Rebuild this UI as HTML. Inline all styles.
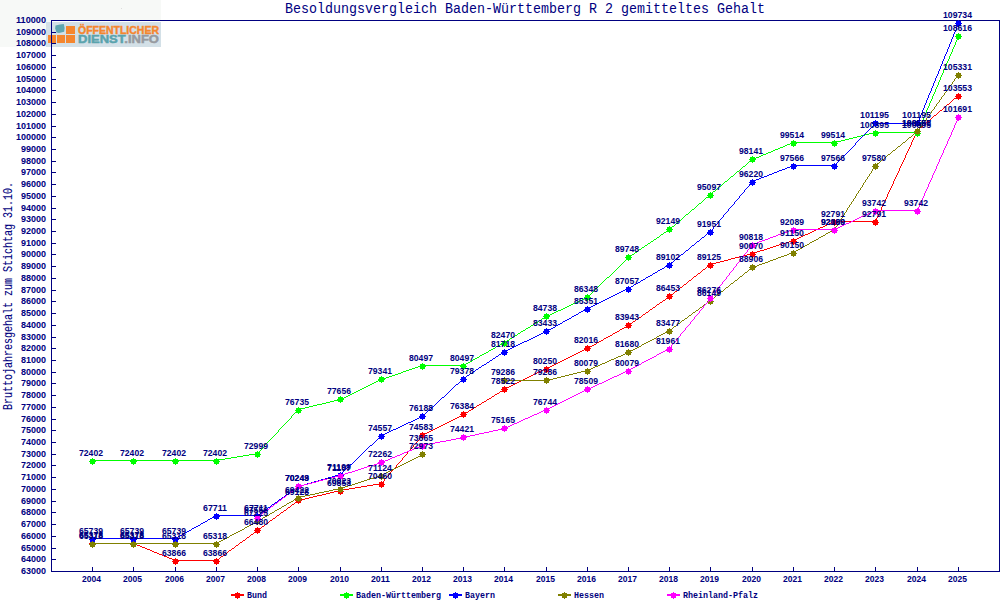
<!DOCTYPE html>
<html><head><meta charset="utf-8"><title>Besoldungsvergleich</title>
<style>html,body{margin:0;padding:0;background:#fff;overflow:hidden}svg{display:block}text{font-family:"Liberation Mono","DejaVu Sans Mono",monospace}.sans text{font-family:"Liberation Sans","DejaVu Sans",sans-serif}</style></head><body>
<svg width="1000" height="600" viewBox="0 0 1000 600">
<rect x="0" y="0" width="1000" height="600" fill="#ffffff"/>
<rect x="0" y="0" width="161" height="47" fill="#f7f9f7"/>
<rect x="52" y="21" width="947" height="550" fill="#ffffff"/>
<rect x="121" y="8" width="1" height="1" fill="#dcdcdc"/>
<g id="logo">
<rect x="46" y="22" width="115" height="25" fill="#d3e0e7"/>
<rect x="48" y="35" width="8" height="8" fill="#f5862e"/>
<rect x="57" y="35" width="8" height="8" fill="#f5862e"/>
<rect x="66" y="35" width="9" height="8" fill="#f5862e"/>
<rect x="66" y="26" width="9" height="8" fill="#f5862e"/>
<path d="M55.5 25.5 L60 24.6 L63.8 24 L64.6 28 L64.2 31.8 L59 33 L56.5 32.4 L55.2 28.5 Z" fill="#5ea6b0"/>
<text x="78" y="34" font-family="'Liberation Sans',sans-serif" font-weight="bold" font-size="11" fill="#f5862e" stroke="#f5862e" stroke-width="0.45" textLength="81" lengthAdjust="spacingAndGlyphs" style="font-family:'Liberation Sans',sans-serif">ÖFFENTLICHER</text>
<text x="78" y="43" font-family="'Liberation Sans',sans-serif" font-weight="bold" font-size="11" fill="#5aa3ad" stroke="#5aa3ad" stroke-width="0.45" style="font-family:'Liberation Sans',sans-serif" textLength="81" lengthAdjust="spacingAndGlyphs">DIENST<tspan fill="#979aa0" stroke="#979aa0">.INFO</tspan></text>
</g>
<rect x="51.5" y="20.5" width="948" height="551" fill="none" stroke="#000080" stroke-width="1" shape-rendering="crispEdges"/>
<path d="M51 559.5H56M51 548.5H56M51 536.5H56M51 524.5H56M51 512.5H56M51 501.5H56M51 489.5H56M51 477.5H56M51 465.5H56M51 454.5H56M51 442.5H56M51 430.5H56M51 419.5H56M51 407.5H56M51 395.5H56M51 383.5H56M51 372.5H56M51 360.5H56M51 348.5H56M51 337.5H56M51 325.5H56M51 313.5H56M51 301.5H56M51 290.5H56M51 278.5H56M51 266.5H56M51 254.5H56M51 243.5H56M51 231.5H56M51 219.5H56M51 208.5H56M51 196.5H56M51 184.5H56M51 172.5H56M51 161.5H56M51 149.5H56M51 137.5H56M51 126.5H56M51 114.5H56M51 102.5H56M51 90.5H56M51 79.5H56M51 67.5H56M51 55.5H56M51 43.5H56M51 32.5H56M92.5 567V571M133.5 567V571M175.5 567V571M216.5 567V571M257.5 567V571M298.5 567V571M340.5 567V571M381.5 567V571M422.5 567V571M463.5 567V571M504.5 567V571M546.5 567V571M587.5 567V571M628.5 567V571M669.5 567V571M710.5 567V571M752.5 567V571M793.5 567V571M834.5 567V571M875.5 567V571M917.5 567V571M958.5 567V571" stroke="#000080" stroke-width="1" fill="none" shape-rendering="crispEdges"/>
<g font-size="9.5" fill="#000080" font-weight="bold" class="sans">
<text x="46" y="574" text-anchor="end" textLength="25" lengthAdjust="spacingAndGlyphs">63000</text><text x="46" y="562" text-anchor="end" textLength="25" lengthAdjust="spacingAndGlyphs">64000</text><text x="46" y="551" text-anchor="end" textLength="25" lengthAdjust="spacingAndGlyphs">65000</text><text x="46" y="539" text-anchor="end" textLength="25" lengthAdjust="spacingAndGlyphs">66000</text><text x="46" y="527" text-anchor="end" textLength="25" lengthAdjust="spacingAndGlyphs">67000</text><text x="46" y="515" text-anchor="end" textLength="25" lengthAdjust="spacingAndGlyphs">68000</text><text x="46" y="504" text-anchor="end" textLength="25" lengthAdjust="spacingAndGlyphs">69000</text><text x="46" y="492" text-anchor="end" textLength="25" lengthAdjust="spacingAndGlyphs">70000</text><text x="46" y="480" text-anchor="end" textLength="25" lengthAdjust="spacingAndGlyphs">71000</text><text x="46" y="468" text-anchor="end" textLength="25" lengthAdjust="spacingAndGlyphs">72000</text><text x="46" y="457" text-anchor="end" textLength="25" lengthAdjust="spacingAndGlyphs">73000</text><text x="46" y="445" text-anchor="end" textLength="25" lengthAdjust="spacingAndGlyphs">74000</text><text x="46" y="433" text-anchor="end" textLength="25" lengthAdjust="spacingAndGlyphs">75000</text><text x="46" y="422" text-anchor="end" textLength="25" lengthAdjust="spacingAndGlyphs">76000</text><text x="46" y="410" text-anchor="end" textLength="25" lengthAdjust="spacingAndGlyphs">77000</text><text x="46" y="398" text-anchor="end" textLength="25" lengthAdjust="spacingAndGlyphs">78000</text><text x="46" y="386" text-anchor="end" textLength="25" lengthAdjust="spacingAndGlyphs">79000</text><text x="46" y="375" text-anchor="end" textLength="25" lengthAdjust="spacingAndGlyphs">80000</text><text x="46" y="363" text-anchor="end" textLength="25" lengthAdjust="spacingAndGlyphs">81000</text><text x="46" y="351" text-anchor="end" textLength="25" lengthAdjust="spacingAndGlyphs">82000</text><text x="46" y="340" text-anchor="end" textLength="25" lengthAdjust="spacingAndGlyphs">83000</text><text x="46" y="328" text-anchor="end" textLength="25" lengthAdjust="spacingAndGlyphs">84000</text><text x="46" y="316" text-anchor="end" textLength="25" lengthAdjust="spacingAndGlyphs">85000</text><text x="46" y="304" text-anchor="end" textLength="25" lengthAdjust="spacingAndGlyphs">86000</text><text x="46" y="293" text-anchor="end" textLength="25" lengthAdjust="spacingAndGlyphs">87000</text><text x="46" y="281" text-anchor="end" textLength="25" lengthAdjust="spacingAndGlyphs">88000</text><text x="46" y="269" text-anchor="end" textLength="25" lengthAdjust="spacingAndGlyphs">89000</text><text x="46" y="257" text-anchor="end" textLength="25" lengthAdjust="spacingAndGlyphs">90000</text><text x="46" y="246" text-anchor="end" textLength="25" lengthAdjust="spacingAndGlyphs">91000</text><text x="46" y="234" text-anchor="end" textLength="25" lengthAdjust="spacingAndGlyphs">92000</text><text x="46" y="222" text-anchor="end" textLength="25" lengthAdjust="spacingAndGlyphs">93000</text><text x="46" y="211" text-anchor="end" textLength="25" lengthAdjust="spacingAndGlyphs">94000</text><text x="46" y="199" text-anchor="end" textLength="25" lengthAdjust="spacingAndGlyphs">95000</text><text x="46" y="187" text-anchor="end" textLength="25" lengthAdjust="spacingAndGlyphs">96000</text><text x="46" y="175" text-anchor="end" textLength="25" lengthAdjust="spacingAndGlyphs">97000</text><text x="46" y="164" text-anchor="end" textLength="25" lengthAdjust="spacingAndGlyphs">98000</text><text x="46" y="152" text-anchor="end" textLength="25" lengthAdjust="spacingAndGlyphs">99000</text><text x="46" y="140" text-anchor="end" textLength="30" lengthAdjust="spacingAndGlyphs">100000</text><text x="46" y="129" text-anchor="end" textLength="30" lengthAdjust="spacingAndGlyphs">101000</text><text x="46" y="117" text-anchor="end" textLength="30" lengthAdjust="spacingAndGlyphs">102000</text><text x="46" y="105" text-anchor="end" textLength="30" lengthAdjust="spacingAndGlyphs">103000</text><text x="46" y="93" text-anchor="end" textLength="30" lengthAdjust="spacingAndGlyphs">104000</text><text x="46" y="82" text-anchor="end" textLength="30" lengthAdjust="spacingAndGlyphs">105000</text><text x="46" y="70" text-anchor="end" textLength="30" lengthAdjust="spacingAndGlyphs">106000</text><text x="46" y="58" text-anchor="end" textLength="30" lengthAdjust="spacingAndGlyphs">107000</text><text x="46" y="46" text-anchor="end" textLength="30" lengthAdjust="spacingAndGlyphs">108000</text><text x="46" y="35" text-anchor="end" textLength="30" lengthAdjust="spacingAndGlyphs">109000</text><text x="46" y="23" text-anchor="end" textLength="30" lengthAdjust="spacingAndGlyphs">110000</text>
<text x="82" y="582" textLength="19" lengthAdjust="spacingAndGlyphs">2004</text>
<text x="123" y="582" textLength="19" lengthAdjust="spacingAndGlyphs">2005</text>
<text x="165" y="582" textLength="19" lengthAdjust="spacingAndGlyphs">2006</text>
<text x="206" y="582" textLength="19" lengthAdjust="spacingAndGlyphs">2007</text>
<text x="247" y="582" textLength="19" lengthAdjust="spacingAndGlyphs">2008</text>
<text x="288" y="582" textLength="19" lengthAdjust="spacingAndGlyphs">2009</text>
<text x="330" y="582" textLength="19" lengthAdjust="spacingAndGlyphs">2010</text>
<text x="371" y="582" textLength="19" lengthAdjust="spacingAndGlyphs">2011</text>
<text x="412" y="582" textLength="19" lengthAdjust="spacingAndGlyphs">2012</text>
<text x="453" y="582" textLength="19" lengthAdjust="spacingAndGlyphs">2013</text>
<text x="494" y="582" textLength="19" lengthAdjust="spacingAndGlyphs">2014</text>
<text x="536" y="582" textLength="19" lengthAdjust="spacingAndGlyphs">2015</text>
<text x="577" y="582" textLength="19" lengthAdjust="spacingAndGlyphs">2016</text>
<text x="618" y="582" textLength="19" lengthAdjust="spacingAndGlyphs">2017</text>
<text x="659" y="582" textLength="19" lengthAdjust="spacingAndGlyphs">2018</text>
<text x="700" y="582" textLength="19" lengthAdjust="spacingAndGlyphs">2019</text>
<text x="742" y="582" textLength="19" lengthAdjust="spacingAndGlyphs">2020</text>
<text x="783" y="582" textLength="19" lengthAdjust="spacingAndGlyphs">2021</text>
<text x="824" y="582" textLength="19" lengthAdjust="spacingAndGlyphs">2022</text>
<text x="865" y="582" textLength="19" lengthAdjust="spacingAndGlyphs">2023</text>
<text x="907" y="582" textLength="19" lengthAdjust="spacingAndGlyphs">2024</text>
<text x="948" y="582" textLength="19" lengthAdjust="spacingAndGlyphs">2025</text>
</g>
<path d="M958 95h1v1h-1zM957 96h1v1h-1zM956 97h1v1h-1zM954 98h2v1h-2zM953 99h1v1h-1zM952 100h1v1h-1zM951 101h1v1h-1zM950 102h1v1h-1zM949 103h1v1h-1zM947 104h2v1h-2zM946 105h1v1h-1zM945 106h1v1h-1zM944 107h1v1h-1zM943 108h1v1h-1zM942 109h1v1h-1zM940 110h2v1h-2zM939 111h1v1h-1zM938 112h1v1h-1zM937 113h1v1h-1zM936 114h1v1h-1zM934 115h2v1h-2zM933 116h1v1h-1zM932 117h1v1h-1zM931 118h1v1h-1zM930 119h1v1h-1zM929 120h1v1h-1zM927 121h2v1h-2zM926 122h1v1h-1zM925 123h1v1h-1zM924 124h1v1h-1zM923 125h1v1h-1zM922 126h1v1h-1zM920 127h2v1h-2zM919 128h1v1h-1zM918 129h1v1h-1zM917 130h1v1h-1zM917 131h1v1h-1zM916 132h1v1h-1zM916 133h1v1h-1zM915 134h1v1h-1zM915 135h1v1h-1zM914 136h1v1h-1zM914 137h1v1h-1zM913 138h1v1h-1zM913 139h1v1h-1zM912 140h1v1h-1zM912 141h1v1h-1zM911 142h1v1h-1zM911 143h1v1h-1zM911 144h1v1h-1zM910 145h1v1h-1zM910 146h1v1h-1zM909 147h1v1h-1zM909 148h1v1h-1zM908 149h1v1h-1zM908 150h1v1h-1zM907 151h1v1h-1zM907 152h1v1h-1zM906 153h1v1h-1zM906 154h1v1h-1zM905 155h1v1h-1zM905 156h1v1h-1zM905 157h1v1h-1zM904 158h1v1h-1zM904 159h1v1h-1zM903 160h1v1h-1zM903 161h1v1h-1zM902 162h1v1h-1zM902 163h1v1h-1zM901 164h1v1h-1zM901 165h1v1h-1zM900 166h1v1h-1zM900 167h1v1h-1zM899 168h1v1h-1zM899 169h1v1h-1zM899 170h1v1h-1zM898 171h1v1h-1zM898 172h1v1h-1zM897 173h1v1h-1zM897 174h1v1h-1zM896 175h1v1h-1zM896 176h1v1h-1zM895 177h1v1h-1zM895 178h1v1h-1zM894 179h1v1h-1zM894 180h1v1h-1zM893 181h1v1h-1zM893 182h1v1h-1zM893 183h1v1h-1zM892 184h1v1h-1zM892 185h1v1h-1zM891 186h1v1h-1zM891 187h1v1h-1zM890 188h1v1h-1zM890 189h1v1h-1zM889 190h1v1h-1zM889 191h1v1h-1zM888 192h1v1h-1zM888 193h1v1h-1zM887 194h1v1h-1zM887 195h1v1h-1zM887 196h1v1h-1zM886 197h1v1h-1zM886 198h1v1h-1zM885 199h1v1h-1zM885 200h1v1h-1zM884 201h1v1h-1zM884 202h1v1h-1zM883 203h1v1h-1zM883 204h1v1h-1zM882 205h1v1h-1zM882 206h1v1h-1zM881 207h1v1h-1zM881 208h1v1h-1zM881 209h1v1h-1zM880 210h1v1h-1zM880 211h1v1h-1zM879 212h1v1h-1zM879 213h1v1h-1zM878 214h1v1h-1zM878 215h1v1h-1zM877 216h1v1h-1zM877 217h1v1h-1zM876 218h1v1h-1zM876 219h1v1h-1zM875 220h1v1h-1zM833 221h43v1h-43zM831 222h2v1h-2zM829 223h2v1h-2zM827 224h2v1h-2zM825 225h2v1h-2zM823 226h2v1h-2zM820 227h3v1h-3zM818 228h2v1h-2zM816 229h2v1h-2zM814 230h2v1h-2zM812 231h2v1h-2zM810 232h2v1h-2zM808 233h2v1h-2zM805 234h3v1h-3zM803 235h2v1h-2zM801 236h2v1h-2zM799 237h2v1h-2zM797 238h2v1h-2zM795 239h2v1h-2zM792 240h3v1h-3zM789 241h3v1h-3zM786 242h3v1h-3zM782 243h4v1h-4zM779 244h3v1h-3zM776 245h3v1h-3zM773 246h3v1h-3zM770 247h3v1h-3zM767 248h3v1h-3zM764 249h3v1h-3zM760 250h4v1h-4zM757 251h3v1h-3zM754 252h3v1h-3zM751 253h3v1h-3zM747 254h4v1h-4zM743 255h4v1h-4zM739 256h4v1h-4zM735 257h4v1h-4zM731 258h4v1h-4zM728 259h3v1h-3zM724 260h4v1h-4zM720 261h4v1h-4zM716 262h4v1h-4zM712 263h4v1h-4zM710 264h2v1h-2zM709 265h1v1h-1zM707 266h2v1h-2zM706 267h1v1h-1zM705 268h1v1h-1zM703 269h2v1h-2zM702 270h1v1h-1zM701 271h1v1h-1zM700 272h1v1h-1zM698 273h2v1h-2zM697 274h1v1h-1zM696 275h1v1h-1zM694 276h2v1h-2zM693 277h1v1h-1zM692 278h1v1h-1zM691 279h1v1h-1zM689 280h2v1h-2zM688 281h1v1h-1zM687 282h1v1h-1zM686 283h1v1h-1zM684 284h2v1h-2zM683 285h1v1h-1zM682 286h1v1h-1zM680 287h2v1h-2zM679 288h1v1h-1zM678 289h1v1h-1zM677 290h1v1h-1zM675 291h2v1h-2zM674 292h1v1h-1zM673 293h1v1h-1zM671 294h2v1h-2zM670 295h1v1h-1zM669 296h1v1h-1zM667 297h2v1h-2zM666 298h1v1h-1zM665 299h1v1h-1zM663 300h2v1h-2zM662 301h1v1h-1zM660 302h2v1h-2zM659 303h1v1h-1zM657 304h2v1h-2zM656 305h1v1h-1zM655 306h1v1h-1zM653 307h2v1h-2zM652 308h1v1h-1zM650 309h2v1h-2zM649 310h1v1h-1zM648 311h1v1h-1zM646 312h2v1h-2zM645 313h1v1h-1zM643 314h2v1h-2zM642 315h1v1h-1zM641 316h1v1h-1zM639 317h2v1h-2zM638 318h1v1h-1zM636 319h2v1h-2zM635 320h1v1h-1zM633 321h2v1h-2zM632 322h1v1h-1zM631 323h1v1h-1zM629 324h2v1h-2zM628 325h1v1h-1zM626 326h2v1h-2zM624 327h2v1h-2zM622 328h2v1h-2zM620 329h2v1h-2zM619 330h1v1h-1zM617 331h2v1h-2zM615 332h2v1h-2zM613 333h2v1h-2zM612 334h1v1h-1zM610 335h2v1h-2zM608 336h2v1h-2zM606 337h2v1h-2zM604 338h2v1h-2zM603 339h1v1h-1zM601 340h2v1h-2zM599 341h2v1h-2zM597 342h2v1h-2zM596 343h1v1h-1zM594 344h2v1h-2zM592 345h2v1h-2zM590 346h2v1h-2zM588 347h2v1h-2zM586 348h2v1h-2zM584 349h2v1h-2zM582 350h2v1h-2zM580 351h2v1h-2zM578 352h2v1h-2zM576 353h2v1h-2zM574 354h2v1h-2zM572 355h2v1h-2zM570 356h2v1h-2zM568 357h2v1h-2zM566 358h2v1h-2zM564 359h2v1h-2zM562 360h2v1h-2zM560 361h2v1h-2zM558 362h2v1h-2zM556 363h2v1h-2zM554 364h2v1h-2zM552 365h2v1h-2zM550 366h2v1h-2zM548 367h2v1h-2zM545 368h3v1h-3zM543 369h2v1h-2zM541 370h2v1h-2zM539 371h2v1h-2zM537 372h2v1h-2zM535 373h2v1h-2zM533 374h2v1h-2zM531 375h2v1h-2zM529 376h2v1h-2zM527 377h2v1h-2zM525 378h2v1h-2zM523 379h2v1h-2zM521 380h2v1h-2zM519 381h2v1h-2zM517 382h2v1h-2zM515 383h2v1h-2zM513 384h2v1h-2zM511 385h2v1h-2zM509 386h2v1h-2zM507 387h2v1h-2zM505 388h2v1h-2zM504 389h1v1h-1zM502 390h2v1h-2zM500 391h2v1h-2zM499 392h1v1h-1zM497 393h2v1h-2zM495 394h2v1h-2zM494 395h1v1h-1zM492 396h2v1h-2zM491 397h1v1h-1zM489 398h2v1h-2zM487 399h2v1h-2zM486 400h1v1h-1zM484 401h2v1h-2zM482 402h2v1h-2zM481 403h1v1h-1zM479 404h2v1h-2zM477 405h2v1h-2zM476 406h1v1h-1zM474 407h2v1h-2zM473 408h1v1h-1zM471 409h2v1h-2zM469 410h2v1h-2zM468 411h1v1h-1zM466 412h2v1h-2zM464 413h2v1h-2zM463 414h1v1h-1zM461 415h2v1h-2zM459 416h2v1h-2zM457 417h2v1h-2zM455 418h2v1h-2zM453 419h2v1h-2zM451 420h2v1h-2zM449 421h2v1h-2zM447 422h2v1h-2zM445 423h2v1h-2zM443 424h2v1h-2zM441 425h2v1h-2zM439 426h2v1h-2zM437 427h2v1h-2zM435 428h2v1h-2zM433 429h2v1h-2zM431 430h2v1h-2zM429 431h2v1h-2zM427 432h2v1h-2zM425 433h2v1h-2zM423 434h2v1h-2zM422 435h1v1h-1zM421 436h1v1h-1zM420 437h1v1h-1zM419 438h1v1h-1zM419 439h1v1h-1zM418 440h1v1h-1zM417 441h1v1h-1zM416 442h1v1h-1zM415 443h1v1h-1zM414 444h1v1h-1zM413 445h1v1h-1zM413 446h1v1h-1zM412 447h1v1h-1zM411 448h1v1h-1zM410 449h1v1h-1zM409 450h1v1h-1zM408 451h1v1h-1zM407 452h1v1h-1zM407 453h1v1h-1zM406 454h1v1h-1zM405 455h1v1h-1zM404 456h1v1h-1zM403 457h1v1h-1zM402 458h1v1h-1zM402 459h1v1h-1zM401 460h1v1h-1zM400 461h1v1h-1zM399 462h1v1h-1zM398 463h1v1h-1zM397 464h1v1h-1zM396 465h1v1h-1zM396 466h1v1h-1zM395 467h1v1h-1zM394 468h1v1h-1zM393 469h1v1h-1zM392 470h1v1h-1zM391 471h1v1h-1zM390 472h1v1h-1zM390 473h1v1h-1zM389 474h1v1h-1zM388 475h1v1h-1zM387 476h1v1h-1zM386 477h1v1h-1zM385 478h1v1h-1zM384 479h1v1h-1zM384 480h1v1h-1zM383 481h1v1h-1zM382 482h1v1h-1zM379 483h3v1h-3zM373 484h6v1h-6zM367 485h6v1h-6zM361 486h6v1h-6zM355 487h6v1h-6zM349 488h6v1h-6zM343 489h6v1h-6zM338 490h5v1h-5zM334 491h4v1h-4zM330 492h4v1h-4zM326 493h4v1h-4zM322 494h4v1h-4zM317 495h5v1h-5zM313 496h4v1h-4zM309 497h4v1h-4zM305 498h4v1h-4zM301 499h4v1h-4zM298 500h3v1h-3zM296 501h2v1h-2zM295 502h1v1h-1zM294 503h1v1h-1zM292 504h2v1h-2zM291 505h1v1h-1zM290 506h1v1h-1zM288 507h2v1h-2zM287 508h1v1h-1zM286 509h1v1h-1zM284 510h2v1h-2zM283 511h1v1h-1zM281 512h2v1h-2zM280 513h1v1h-1zM279 514h1v1h-1zM277 515h2v1h-2zM276 516h1v1h-1zM275 517h1v1h-1zM273 518h2v1h-2zM272 519h1v1h-1zM270 520h2v1h-2zM269 521h1v1h-1zM268 522h1v1h-1zM266 523h2v1h-2zM265 524h1v1h-1zM264 525h1v1h-1zM262 526h2v1h-2zM261 527h1v1h-1zM260 528h1v1h-1zM258 529h2v1h-2zM257 530h1v1h-1zM255 531h2v1h-2zM254 532h1v1h-1zM253 533h1v1h-1zM251 534h2v1h-2zM250 535h1v1h-1zM249 536h1v1h-1zM247 537h2v1h-2zM246 538h1v1h-1zM245 539h1v1h-1zM243 540h2v1h-2zM242 541h1v1h-1zM240 542h2v1h-2zM92 543h43v1h-43zM239 543h1v1h-1zM135 544h2v1h-2zM238 544h1v1h-1zM137 545h3v1h-3zM236 545h2v1h-2zM140 546h2v1h-2zM235 546h1v1h-1zM142 547h3v1h-3zM234 547h1v1h-1zM145 548h2v1h-2zM232 548h2v1h-2zM147 549h3v1h-3zM231 549h1v1h-1zM150 550h2v1h-2zM229 550h2v1h-2zM152 551h2v1h-2zM228 551h1v1h-1zM154 552h3v1h-3zM227 552h1v1h-1zM157 553h2v1h-2zM225 553h2v1h-2zM159 554h3v1h-3zM224 554h1v1h-1zM162 555h2v1h-2zM223 555h1v1h-1zM164 556h3v1h-3zM221 556h2v1h-2zM167 557h2v1h-2zM220 557h1v1h-1zM169 558h3v1h-3zM219 558h1v1h-1zM172 559h2v1h-2zM217 559h2v1h-2zM174 560h43v1h-43z" fill="#ff0000" shape-rendering="crispEdges"/>
<path d="M90 541h5v5h-5z M92 540h1v1h-1z M92 546h1v1h-1z M89 543h1v1h-1z M95 543h1v1h-1z" fill="#ff0000" shape-rendering="crispEdges"/>
<path d="M131 541h5v5h-5z M133 540h1v1h-1z M133 546h1v1h-1z M130 543h1v1h-1z M136 543h1v1h-1z" fill="#ff0000" shape-rendering="crispEdges"/>
<path d="M173 559h5v5h-5z M175 558h1v1h-1z M175 564h1v1h-1z M172 561h1v1h-1z M178 561h1v1h-1z" fill="#ff0000" shape-rendering="crispEdges"/>
<path d="M214 559h5v5h-5z M216 558h1v1h-1z M216 564h1v1h-1z M213 561h1v1h-1z M219 561h1v1h-1z" fill="#ff0000" shape-rendering="crispEdges"/>
<path d="M255 528h5v5h-5z M257 527h1v1h-1z M257 533h1v1h-1z M254 530h1v1h-1z M260 530h1v1h-1z" fill="#ff0000" shape-rendering="crispEdges"/>
<path d="M296 498h5v5h-5z M298 497h1v1h-1z M298 503h1v1h-1z M295 500h1v1h-1z M301 500h1v1h-1z" fill="#ff0000" shape-rendering="crispEdges"/>
<path d="M338 489h5v5h-5z M340 488h1v1h-1z M340 494h1v1h-1z M337 491h1v1h-1z M343 491h1v1h-1z" fill="#ff0000" shape-rendering="crispEdges"/>
<path d="M379 482h5v5h-5z M381 481h1v1h-1z M381 487h1v1h-1z M378 484h1v1h-1z M384 484h1v1h-1z" fill="#ff0000" shape-rendering="crispEdges"/>
<path d="M420 433h5v5h-5z M422 432h1v1h-1z M422 438h1v1h-1z M419 435h1v1h-1z M425 435h1v1h-1z" fill="#ff0000" shape-rendering="crispEdges"/>
<path d="M461 412h5v5h-5z M463 411h1v1h-1z M463 417h1v1h-1z M460 414h1v1h-1z M466 414h1v1h-1z" fill="#ff0000" shape-rendering="crispEdges"/>
<path d="M502 387h5v5h-5z M504 386h1v1h-1z M504 392h1v1h-1z M501 389h1v1h-1z M507 389h1v1h-1z" fill="#ff0000" shape-rendering="crispEdges"/>
<path d="M544 367h5v5h-5z M546 366h1v1h-1z M546 372h1v1h-1z M543 369h1v1h-1z M549 369h1v1h-1z" fill="#ff0000" shape-rendering="crispEdges"/>
<path d="M585 346h5v5h-5z M587 345h1v1h-1z M587 351h1v1h-1z M584 348h1v1h-1z M590 348h1v1h-1z" fill="#ff0000" shape-rendering="crispEdges"/>
<path d="M626 323h5v5h-5z M628 322h1v1h-1z M628 328h1v1h-1z M625 325h1v1h-1z M631 325h1v1h-1z" fill="#ff0000" shape-rendering="crispEdges"/>
<path d="M667 294h5v5h-5z M669 293h1v1h-1z M669 299h1v1h-1z M666 296h1v1h-1z M672 296h1v1h-1z" fill="#ff0000" shape-rendering="crispEdges"/>
<path d="M708 263h5v5h-5z M710 262h1v1h-1z M710 268h1v1h-1z M707 265h1v1h-1z M713 265h1v1h-1z" fill="#ff0000" shape-rendering="crispEdges"/>
<path d="M750 252h5v5h-5z M752 251h1v1h-1z M752 257h1v1h-1z M749 254h1v1h-1z M755 254h1v1h-1z" fill="#ff0000" shape-rendering="crispEdges"/>
<path d="M791 239h5v5h-5z M793 238h1v1h-1z M793 244h1v1h-1z M790 241h1v1h-1z M796 241h1v1h-1z" fill="#ff0000" shape-rendering="crispEdges"/>
<path d="M832 220h5v5h-5z M834 219h1v1h-1z M834 225h1v1h-1z M831 222h1v1h-1z M837 222h1v1h-1z" fill="#ff0000" shape-rendering="crispEdges"/>
<path d="M873 220h5v5h-5z M875 219h1v1h-1z M875 225h1v1h-1z M872 222h1v1h-1z M878 222h1v1h-1z" fill="#ff0000" shape-rendering="crispEdges"/>
<path d="M915 129h5v5h-5z M917 128h1v1h-1z M917 134h1v1h-1z M914 131h1v1h-1z M920 131h1v1h-1z" fill="#ff0000" shape-rendering="crispEdges"/>
<path d="M956 94h5v5h-5z M958 93h1v1h-1z M958 99h1v1h-1z M955 96h1v1h-1z M961 96h1v1h-1z" fill="#ff0000" shape-rendering="crispEdges"/>
<path d="M958 36h1v1h-1zM958 37h1v1h-1zM957 38h1v1h-1zM957 39h1v1h-1zM956 40h1v1h-1zM956 41h1v1h-1zM955 42h1v1h-1zM955 43h1v1h-1zM955 44h1v1h-1zM954 45h1v1h-1zM954 46h1v1h-1zM953 47h1v1h-1zM953 48h1v1h-1zM952 49h1v1h-1zM952 50h1v1h-1zM952 51h1v1h-1zM951 52h1v1h-1zM951 53h1v1h-1zM950 54h1v1h-1zM950 55h1v1h-1zM949 56h1v1h-1zM949 57h1v1h-1zM949 58h1v1h-1zM948 59h1v1h-1zM948 60h1v1h-1zM947 61h1v1h-1zM947 62h1v1h-1zM946 63h1v1h-1zM946 64h1v1h-1zM946 65h1v1h-1zM945 66h1v1h-1zM945 67h1v1h-1zM944 68h1v1h-1zM944 69h1v1h-1zM943 70h1v1h-1zM943 71h1v1h-1zM943 72h1v1h-1zM942 73h1v1h-1zM942 74h1v1h-1zM941 75h1v1h-1zM941 76h1v1h-1zM940 77h1v1h-1zM940 78h1v1h-1zM940 79h1v1h-1zM939 80h1v1h-1zM939 81h1v1h-1zM938 82h1v1h-1zM938 83h1v1h-1zM938 84h1v1h-1zM937 85h1v1h-1zM937 86h1v1h-1zM936 87h1v1h-1zM936 88h1v1h-1zM935 89h1v1h-1zM935 90h1v1h-1zM935 91h1v1h-1zM934 92h1v1h-1zM934 93h1v1h-1zM933 94h1v1h-1zM933 95h1v1h-1zM932 96h1v1h-1zM932 97h1v1h-1zM932 98h1v1h-1zM931 99h1v1h-1zM931 100h1v1h-1zM930 101h1v1h-1zM930 102h1v1h-1zM929 103h1v1h-1zM929 104h1v1h-1zM929 105h1v1h-1zM928 106h1v1h-1zM928 107h1v1h-1zM927 108h1v1h-1zM927 109h1v1h-1zM926 110h1v1h-1zM926 111h1v1h-1zM926 112h1v1h-1zM925 113h1v1h-1zM925 114h1v1h-1zM924 115h1v1h-1zM924 116h1v1h-1zM923 117h1v1h-1zM923 118h1v1h-1zM923 119h1v1h-1zM922 120h1v1h-1zM922 121h1v1h-1zM921 122h1v1h-1zM921 123h1v1h-1zM920 124h1v1h-1zM920 125h1v1h-1zM920 126h1v1h-1zM919 127h1v1h-1zM919 128h1v1h-1zM918 129h1v1h-1zM918 130h1v1h-1zM917 131h1v1h-1zM873 132h45v1h-45zM869 133h4v1h-4zM865 134h4v1h-4zM861 135h4v1h-4zM857 136h4v1h-4zM853 137h4v1h-4zM849 138h4v1h-4zM845 139h4v1h-4zM841 140h4v1h-4zM837 141h4v1h-4zM792 142h45v1h-45zM790 143h2v1h-2zM787 144h3v1h-3zM785 145h2v1h-2zM783 146h2v1h-2zM780 147h3v1h-3zM778 148h2v1h-2zM775 149h3v1h-3zM773 150h2v1h-2zM771 151h2v1h-2zM768 152h3v1h-3zM766 153h2v1h-2zM763 154h3v1h-3zM761 155h2v1h-2zM759 156h2v1h-2zM756 157h3v1h-3zM754 158h2v1h-2zM752 159h2v1h-2zM751 160h1v1h-1zM749 161h2v1h-2zM748 162h1v1h-1zM747 163h1v1h-1zM746 164h1v1h-1zM745 165h1v1h-1zM743 166h2v1h-2zM742 167h1v1h-1zM741 168h1v1h-1zM740 169h1v1h-1zM739 170h1v1h-1zM737 171h2v1h-2zM736 172h1v1h-1zM735 173h1v1h-1zM734 174h1v1h-1zM733 175h1v1h-1zM731 176h2v1h-2zM730 177h1v1h-1zM729 178h1v1h-1zM728 179h1v1h-1zM727 180h1v1h-1zM725 181h2v1h-2zM724 182h1v1h-1zM723 183h1v1h-1zM722 184h1v1h-1zM721 185h1v1h-1zM719 186h2v1h-2zM718 187h1v1h-1zM717 188h1v1h-1zM716 189h1v1h-1zM715 190h1v1h-1zM713 191h2v1h-2zM712 192h1v1h-1zM711 193h1v1h-1zM710 194h1v1h-1zM709 195h1v1h-1zM708 196h1v1h-1zM706 197h2v1h-2zM705 198h1v1h-1zM704 199h1v1h-1zM703 200h1v1h-1zM702 201h1v1h-1zM701 202h1v1h-1zM699 203h2v1h-2zM698 204h1v1h-1zM697 205h1v1h-1zM696 206h1v1h-1zM695 207h1v1h-1zM694 208h1v1h-1zM692 209h2v1h-2zM691 210h1v1h-1zM690 211h1v1h-1zM689 212h1v1h-1zM688 213h1v1h-1zM686 214h2v1h-2zM685 215h1v1h-1zM684 216h1v1h-1zM683 217h1v1h-1zM682 218h1v1h-1zM681 219h1v1h-1zM679 220h2v1h-2zM678 221h1v1h-1zM677 222h1v1h-1zM676 223h1v1h-1zM675 224h1v1h-1zM674 225h1v1h-1zM672 226h2v1h-2zM671 227h1v1h-1zM670 228h1v1h-1zM669 229h1v1h-1zM667 230h2v1h-2zM666 231h1v1h-1zM664 232h2v1h-2zM663 233h1v1h-1zM661 234h2v1h-2zM660 235h1v1h-1zM659 236h1v1h-1zM657 237h2v1h-2zM656 238h1v1h-1zM654 239h2v1h-2zM653 240h1v1h-1zM651 241h2v1h-2zM650 242h1v1h-1zM648 243h2v1h-2zM647 244h1v1h-1zM645 245h2v1h-2zM644 246h1v1h-1zM642 247h2v1h-2zM641 248h1v1h-1zM639 249h2v1h-2zM638 250h1v1h-1zM637 251h1v1h-1zM635 252h2v1h-2zM634 253h1v1h-1zM632 254h2v1h-2zM631 255h1v1h-1zM629 256h2v1h-2zM628 257h1v1h-1zM627 258h1v1h-1zM626 259h1v1h-1zM625 260h1v1h-1zM624 261h1v1h-1zM623 262h1v1h-1zM622 263h1v1h-1zM621 264h1v1h-1zM620 265h1v1h-1zM619 266h1v1h-1zM618 267h1v1h-1zM617 268h1v1h-1zM616 269h1v1h-1zM615 270h1v1h-1zM614 271h1v1h-1zM613 272h1v1h-1zM612 273h1v1h-1zM611 274h1v1h-1zM610 275h1v1h-1zM609 276h1v1h-1zM607 277h2v1h-2zM606 278h1v1h-1zM605 279h1v1h-1zM604 280h1v1h-1zM603 281h1v1h-1zM602 282h1v1h-1zM601 283h1v1h-1zM600 284h1v1h-1zM599 285h1v1h-1zM598 286h1v1h-1zM597 287h1v1h-1zM596 288h1v1h-1zM595 289h1v1h-1zM594 290h1v1h-1zM593 291h1v1h-1zM592 292h1v1h-1zM591 293h1v1h-1zM590 294h1v1h-1zM589 295h1v1h-1zM588 296h1v1h-1zM586 297h2v1h-2zM584 298h2v1h-2zM582 299h2v1h-2zM580 300h2v1h-2zM578 301h2v1h-2zM576 302h2v1h-2zM573 303h3v1h-3zM571 304h2v1h-2zM569 305h2v1h-2zM567 306h2v1h-2zM565 307h2v1h-2zM563 308h2v1h-2zM561 309h2v1h-2zM558 310h3v1h-3zM556 311h2v1h-2zM554 312h2v1h-2zM552 313h2v1h-2zM550 314h2v1h-2zM548 315h2v1h-2zM546 316h2v1h-2zM544 317h2v1h-2zM542 318h2v1h-2zM541 319h1v1h-1zM539 320h2v1h-2zM538 321h1v1h-1zM536 322h2v1h-2zM534 323h2v1h-2zM533 324h1v1h-1zM531 325h2v1h-2zM530 326h1v1h-1zM528 327h2v1h-2zM526 328h2v1h-2zM525 329h1v1h-1zM523 330h2v1h-2zM521 331h2v1h-2zM520 332h1v1h-1zM518 333h2v1h-2zM517 334h1v1h-1zM515 335h2v1h-2zM513 336h2v1h-2zM512 337h1v1h-1zM510 338h2v1h-2zM509 339h1v1h-1zM507 340h2v1h-2zM505 341h2v1h-2zM504 342h1v1h-1zM502 343h2v1h-2zM500 344h2v1h-2zM498 345h2v1h-2zM496 346h2v1h-2zM495 347h1v1h-1zM493 348h2v1h-2zM491 349h2v1h-2zM489 350h2v1h-2zM488 351h1v1h-1zM486 352h2v1h-2zM484 353h2v1h-2zM482 354h2v1h-2zM480 355h2v1h-2zM479 356h1v1h-1zM477 357h2v1h-2zM475 358h2v1h-2zM473 359h2v1h-2zM472 360h1v1h-1zM470 361h2v1h-2zM468 362h2v1h-2zM466 363h2v1h-2zM464 364h2v1h-2zM421 365h43v1h-43zM418 366h3v1h-3zM415 367h3v1h-3zM412 368h3v1h-3zM409 369h3v1h-3zM406 370h3v1h-3zM403 371h3v1h-3zM401 372h2v1h-2zM398 373h3v1h-3zM395 374h3v1h-3zM392 375h3v1h-3zM389 376h3v1h-3zM386 377h3v1h-3zM383 378h3v1h-3zM380 379h3v1h-3zM378 380h2v1h-2zM376 381h2v1h-2zM374 382h2v1h-2zM372 383h2v1h-2zM370 384h2v1h-2zM368 385h2v1h-2zM366 386h2v1h-2zM364 387h2v1h-2zM362 388h2v1h-2zM360 389h2v1h-2zM358 390h2v1h-2zM356 391h2v1h-2zM354 392h2v1h-2zM352 393h2v1h-2zM350 394h2v1h-2zM348 395h2v1h-2zM346 396h2v1h-2zM344 397h2v1h-2zM342 398h2v1h-2zM338 399h4v1h-4zM334 400h4v1h-4zM330 401h4v1h-4zM326 402h4v1h-4zM322 403h4v1h-4zM317 404h5v1h-5zM313 405h4v1h-4zM309 406h4v1h-4zM305 407h4v1h-4zM301 408h4v1h-4zM298 409h3v1h-3zM297 410h1v1h-1zM296 411h1v1h-1zM295 412h1v1h-1zM294 413h1v1h-1zM293 414h1v1h-1zM292 415h1v1h-1zM291 416h1v1h-1zM291 417h1v1h-1zM290 418h1v1h-1zM289 419h1v1h-1zM288 420h1v1h-1zM287 421h1v1h-1zM286 422h1v1h-1zM285 423h1v1h-1zM284 424h1v1h-1zM283 425h1v1h-1zM282 426h1v1h-1zM281 427h1v1h-1zM280 428h1v1h-1zM279 429h1v1h-1zM278 430h1v1h-1zM278 431h1v1h-1zM277 432h1v1h-1zM276 433h1v1h-1zM275 434h1v1h-1zM274 435h1v1h-1zM273 436h1v1h-1zM272 437h1v1h-1zM271 438h1v1h-1zM270 439h1v1h-1zM269 440h1v1h-1zM268 441h1v1h-1zM267 442h1v1h-1zM266 443h1v1h-1zM265 444h1v1h-1zM264 445h1v1h-1zM264 446h1v1h-1zM263 447h1v1h-1zM262 448h1v1h-1zM261 449h1v1h-1zM260 450h1v1h-1zM259 451h1v1h-1zM258 452h1v1h-1zM255 453h3v1h-3zM249 454h6v1h-6zM243 455h6v1h-6zM237 456h6v1h-6zM231 457h6v1h-6zM225 458h6v1h-6zM219 459h6v1h-6zM92 460h127v1h-127z" fill="#00ff00" shape-rendering="crispEdges"/>
<path d="M90 459h5v5h-5z M92 458h1v1h-1z M92 464h1v1h-1z M89 461h1v1h-1z M95 461h1v1h-1z" fill="#00ff00" shape-rendering="crispEdges"/>
<path d="M131 459h5v5h-5z M133 458h1v1h-1z M133 464h1v1h-1z M130 461h1v1h-1z M136 461h1v1h-1z" fill="#00ff00" shape-rendering="crispEdges"/>
<path d="M173 459h5v5h-5z M175 458h1v1h-1z M175 464h1v1h-1z M172 461h1v1h-1z M178 461h1v1h-1z" fill="#00ff00" shape-rendering="crispEdges"/>
<path d="M214 459h5v5h-5z M216 458h1v1h-1z M216 464h1v1h-1z M213 461h1v1h-1z M219 461h1v1h-1z" fill="#00ff00" shape-rendering="crispEdges"/>
<path d="M255 452h5v5h-5z M257 451h1v1h-1z M257 457h1v1h-1z M254 454h1v1h-1z M260 454h1v1h-1z" fill="#00ff00" shape-rendering="crispEdges"/>
<path d="M296 408h5v5h-5z M298 407h1v1h-1z M298 413h1v1h-1z M295 410h1v1h-1z M301 410h1v1h-1z" fill="#00ff00" shape-rendering="crispEdges"/>
<path d="M338 397h5v5h-5z M340 396h1v1h-1z M340 402h1v1h-1z M337 399h1v1h-1z M343 399h1v1h-1z" fill="#00ff00" shape-rendering="crispEdges"/>
<path d="M379 377h5v5h-5z M381 376h1v1h-1z M381 382h1v1h-1z M378 379h1v1h-1z M384 379h1v1h-1z" fill="#00ff00" shape-rendering="crispEdges"/>
<path d="M420 364h5v5h-5z M422 363h1v1h-1z M422 369h1v1h-1z M419 366h1v1h-1z M425 366h1v1h-1z" fill="#00ff00" shape-rendering="crispEdges"/>
<path d="M461 364h5v5h-5z M463 363h1v1h-1z M463 369h1v1h-1z M460 366h1v1h-1z M466 366h1v1h-1z" fill="#00ff00" shape-rendering="crispEdges"/>
<path d="M502 341h5v5h-5z M504 340h1v1h-1z M504 346h1v1h-1z M501 343h1v1h-1z M507 343h1v1h-1z" fill="#00ff00" shape-rendering="crispEdges"/>
<path d="M544 314h5v5h-5z M546 313h1v1h-1z M546 319h1v1h-1z M543 316h1v1h-1z M549 316h1v1h-1z" fill="#00ff00" shape-rendering="crispEdges"/>
<path d="M585 295h5v5h-5z M587 294h1v1h-1z M587 300h1v1h-1z M584 297h1v1h-1z M590 297h1v1h-1z" fill="#00ff00" shape-rendering="crispEdges"/>
<path d="M626 255h5v5h-5z M628 254h1v1h-1z M628 260h1v1h-1z M625 257h1v1h-1z M631 257h1v1h-1z" fill="#00ff00" shape-rendering="crispEdges"/>
<path d="M667 227h5v5h-5z M669 226h1v1h-1z M669 232h1v1h-1z M666 229h1v1h-1z M672 229h1v1h-1z" fill="#00ff00" shape-rendering="crispEdges"/>
<path d="M708 193h5v5h-5z M710 192h1v1h-1z M710 198h1v1h-1z M707 195h1v1h-1z M713 195h1v1h-1z" fill="#00ff00" shape-rendering="crispEdges"/>
<path d="M750 157h5v5h-5z M752 156h1v1h-1z M752 162h1v1h-1z M749 159h1v1h-1z M755 159h1v1h-1z" fill="#00ff00" shape-rendering="crispEdges"/>
<path d="M791 141h5v5h-5z M793 140h1v1h-1z M793 146h1v1h-1z M790 143h1v1h-1z M796 143h1v1h-1z" fill="#00ff00" shape-rendering="crispEdges"/>
<path d="M832 141h5v5h-5z M834 140h1v1h-1z M834 146h1v1h-1z M831 143h1v1h-1z M837 143h1v1h-1z" fill="#00ff00" shape-rendering="crispEdges"/>
<path d="M873 131h5v5h-5z M875 130h1v1h-1z M875 136h1v1h-1z M872 133h1v1h-1z M878 133h1v1h-1z" fill="#00ff00" shape-rendering="crispEdges"/>
<path d="M915 131h5v5h-5z M917 130h1v1h-1z M917 136h1v1h-1z M914 133h1v1h-1z M920 133h1v1h-1z" fill="#00ff00" shape-rendering="crispEdges"/>
<path d="M956 34h5v5h-5z M958 33h1v1h-1z M958 39h1v1h-1z M955 36h1v1h-1z M961 36h1v1h-1z" fill="#00ff00" shape-rendering="crispEdges"/>
<path d="M958 23h1v1h-1zM958 24h1v1h-1zM957 25h1v1h-1zM957 26h1v1h-1zM956 27h1v1h-1zM956 28h1v1h-1zM956 29h1v1h-1zM955 30h1v1h-1zM955 31h1v1h-1zM954 32h1v1h-1zM954 33h1v1h-1zM953 34h1v1h-1zM953 35h1v1h-1zM953 36h1v1h-1zM952 37h1v1h-1zM952 38h1v1h-1zM951 39h1v1h-1zM951 40h1v1h-1zM951 41h1v1h-1zM950 42h1v1h-1zM950 43h1v1h-1zM949 44h1v1h-1zM949 45h1v1h-1zM949 46h1v1h-1zM948 47h1v1h-1zM948 48h1v1h-1zM947 49h1v1h-1zM947 50h1v1h-1zM947 51h1v1h-1zM946 52h1v1h-1zM946 53h1v1h-1zM945 54h1v1h-1zM945 55h1v1h-1zM944 56h1v1h-1zM944 57h1v1h-1zM944 58h1v1h-1zM943 59h1v1h-1zM943 60h1v1h-1zM942 61h1v1h-1zM942 62h1v1h-1zM942 63h1v1h-1zM941 64h1v1h-1zM941 65h1v1h-1zM940 66h1v1h-1zM940 67h1v1h-1zM940 68h1v1h-1zM939 69h1v1h-1zM939 70h1v1h-1zM938 71h1v1h-1zM938 72h1v1h-1zM938 73h1v1h-1zM937 74h1v1h-1zM937 75h1v1h-1zM936 76h1v1h-1zM936 77h1v1h-1zM935 78h1v1h-1zM935 79h1v1h-1zM935 80h1v1h-1zM934 81h1v1h-1zM934 82h1v1h-1zM933 83h1v1h-1zM933 84h1v1h-1zM933 85h1v1h-1zM932 86h1v1h-1zM932 87h1v1h-1zM931 88h1v1h-1zM931 89h1v1h-1zM931 90h1v1h-1zM930 91h1v1h-1zM930 92h1v1h-1zM929 93h1v1h-1zM929 94h1v1h-1zM928 95h1v1h-1zM928 96h1v1h-1zM928 97h1v1h-1zM927 98h1v1h-1zM927 99h1v1h-1zM926 100h1v1h-1zM926 101h1v1h-1zM926 102h1v1h-1zM925 103h1v1h-1zM925 104h1v1h-1zM924 105h1v1h-1zM924 106h1v1h-1zM924 107h1v1h-1zM923 108h1v1h-1zM923 109h1v1h-1zM922 110h1v1h-1zM922 111h1v1h-1zM922 112h1v1h-1zM921 113h1v1h-1zM921 114h1v1h-1zM920 115h1v1h-1zM920 116h1v1h-1zM919 117h1v1h-1zM919 118h1v1h-1zM919 119h1v1h-1zM918 120h1v1h-1zM918 121h1v1h-1zM917 122h1v1h-1zM875 123h43v1h-43zM874 124h1v1h-1zM873 125h1v1h-1zM872 126h1v1h-1zM871 127h1v1h-1zM870 128h1v1h-1zM869 129h1v1h-1zM868 130h1v1h-1zM867 131h1v1h-1zM866 132h1v1h-1zM865 133h1v1h-1zM864 134h1v1h-1zM863 135h1v1h-1zM862 136h1v1h-1zM861 137h1v1h-1zM860 138h1v1h-1zM859 139h1v1h-1zM858 140h1v1h-1zM857 141h1v1h-1zM856 142h1v1h-1zM855 143h1v1h-1zM855 144h1v1h-1zM854 145h1v1h-1zM853 146h1v1h-1zM852 147h1v1h-1zM851 148h1v1h-1zM850 149h1v1h-1zM849 150h1v1h-1zM848 151h1v1h-1zM847 152h1v1h-1zM846 153h1v1h-1zM845 154h1v1h-1zM844 155h1v1h-1zM843 156h1v1h-1zM842 157h1v1h-1zM841 158h1v1h-1zM840 159h1v1h-1zM839 160h1v1h-1zM838 161h1v1h-1zM837 162h1v1h-1zM836 163h1v1h-1zM835 164h1v1h-1zM792 165h43v1h-43zM790 166h2v1h-2zM787 167h3v1h-3zM785 168h2v1h-2zM782 169h3v1h-3zM779 170h3v1h-3zM777 171h2v1h-2zM774 172h3v1h-3zM772 173h2v1h-2zM769 174h3v1h-3zM767 175h2v1h-2zM764 176h3v1h-3zM761 177h3v1h-3zM759 178h2v1h-2zM756 179h3v1h-3zM754 180h2v1h-2zM752 181h2v1h-2zM751 182h1v1h-1zM750 183h1v1h-1zM749 184h1v1h-1zM749 185h1v1h-1zM748 186h1v1h-1zM747 187h1v1h-1zM746 188h1v1h-1zM745 189h1v1h-1zM744 190h1v1h-1zM744 191h1v1h-1zM743 192h1v1h-1zM742 193h1v1h-1zM741 194h1v1h-1zM740 195h1v1h-1zM739 196h1v1h-1zM739 197h1v1h-1zM738 198h1v1h-1zM737 199h1v1h-1zM736 200h1v1h-1zM735 201h1v1h-1zM734 202h1v1h-1zM734 203h1v1h-1zM733 204h1v1h-1zM732 205h1v1h-1zM731 206h1v1h-1zM730 207h1v1h-1zM729 208h1v1h-1zM728 209h1v1h-1zM728 210h1v1h-1zM727 211h1v1h-1zM726 212h1v1h-1zM725 213h1v1h-1zM724 214h1v1h-1zM723 215h1v1h-1zM723 216h1v1h-1zM722 217h1v1h-1zM721 218h1v1h-1zM720 219h1v1h-1zM719 220h1v1h-1zM718 221h1v1h-1zM718 222h1v1h-1zM717 223h1v1h-1zM716 224h1v1h-1zM715 225h1v1h-1zM714 226h1v1h-1zM713 227h1v1h-1zM713 228h1v1h-1zM712 229h1v1h-1zM711 230h1v1h-1zM710 231h1v1h-1zM709 232h1v1h-1zM707 233h2v1h-2zM706 234h1v1h-1zM705 235h1v1h-1zM704 236h1v1h-1zM702 237h2v1h-2zM701 238h1v1h-1zM700 239h1v1h-1zM699 240h1v1h-1zM697 241h2v1h-2zM696 242h1v1h-1zM695 243h1v1h-1zM694 244h1v1h-1zM692 245h2v1h-2zM691 246h1v1h-1zM690 247h1v1h-1zM689 248h1v1h-1zM688 249h1v1h-1zM686 250h2v1h-2zM685 251h1v1h-1zM684 252h1v1h-1zM683 253h1v1h-1zM681 254h2v1h-2zM680 255h1v1h-1zM679 256h1v1h-1zM678 257h1v1h-1zM676 258h2v1h-2zM675 259h1v1h-1zM674 260h1v1h-1zM673 261h1v1h-1zM671 262h2v1h-2zM670 263h1v1h-1zM669 264h1v1h-1zM667 265h2v1h-2zM665 266h2v1h-2zM664 267h1v1h-1zM662 268h2v1h-2zM660 269h2v1h-2zM658 270h2v1h-2zM657 271h1v1h-1zM655 272h2v1h-2zM653 273h2v1h-2zM652 274h1v1h-1zM650 275h2v1h-2zM648 276h2v1h-2zM646 277h2v1h-2zM645 278h1v1h-1zM643 279h2v1h-2zM641 280h2v1h-2zM640 281h1v1h-1zM638 282h2v1h-2zM636 283h2v1h-2zM634 284h2v1h-2zM633 285h1v1h-1zM631 286h2v1h-2zM629 287h2v1h-2zM627 288h2v1h-2zM625 289h2v1h-2zM623 290h2v1h-2zM621 291h2v1h-2zM619 292h2v1h-2zM617 293h2v1h-2zM615 294h2v1h-2zM613 295h2v1h-2zM611 296h2v1h-2zM609 297h2v1h-2zM607 298h2v1h-2zM605 299h2v1h-2zM603 300h2v1h-2zM601 301h2v1h-2zM599 302h2v1h-2zM597 303h2v1h-2zM595 304h2v1h-2zM593 305h2v1h-2zM591 306h2v1h-2zM589 307h2v1h-2zM587 308h2v1h-2zM585 309h2v1h-2zM583 310h2v1h-2zM581 311h2v1h-2zM579 312h2v1h-2zM578 313h1v1h-1zM576 314h2v1h-2zM574 315h2v1h-2zM572 316h2v1h-2zM571 317h1v1h-1zM569 318h2v1h-2zM567 319h2v1h-2zM565 320h2v1h-2zM563 321h2v1h-2zM562 322h1v1h-1zM560 323h2v1h-2zM558 324h2v1h-2zM556 325h2v1h-2zM555 326h1v1h-1zM553 327h2v1h-2zM551 328h2v1h-2zM549 329h2v1h-2zM547 330h2v1h-2zM545 331h2v1h-2zM543 332h2v1h-2zM541 333h2v1h-2zM539 334h2v1h-2zM537 335h2v1h-2zM535 336h2v1h-2zM533 337h2v1h-2zM531 338h2v1h-2zM529 339h2v1h-2zM527 340h2v1h-2zM524 341h3v1h-3zM522 342h2v1h-2zM520 343h2v1h-2zM518 344h2v1h-2zM516 345h2v1h-2zM514 346h2v1h-2zM512 347h2v1h-2zM510 348h2v1h-2zM508 349h2v1h-2zM506 350h2v1h-2zM504 351h2v1h-2zM502 352h2v1h-2zM501 353h1v1h-1zM499 354h2v1h-2zM498 355h1v1h-1zM496 356h2v1h-2zM495 357h1v1h-1zM493 358h2v1h-2zM492 359h1v1h-1zM490 360h2v1h-2zM489 361h1v1h-1zM487 362h2v1h-2zM486 363h1v1h-1zM484 364h2v1h-2zM482 365h2v1h-2zM481 366h1v1h-1zM479 367h2v1h-2zM478 368h1v1h-1zM476 369h2v1h-2zM475 370h1v1h-1zM473 371h2v1h-2zM472 372h1v1h-1zM470 373h2v1h-2zM469 374h1v1h-1zM467 375h2v1h-2zM466 376h1v1h-1zM464 377h2v1h-2zM463 378h1v1h-1zM462 379h1v1h-1zM461 380h1v1h-1zM460 381h1v1h-1zM459 382h1v1h-1zM458 383h1v1h-1zM456 384h2v1h-2zM455 385h1v1h-1zM454 386h1v1h-1zM453 387h1v1h-1zM452 388h1v1h-1zM451 389h1v1h-1zM450 390h1v1h-1zM449 391h1v1h-1zM448 392h1v1h-1zM447 393h1v1h-1zM446 394h1v1h-1zM445 395h1v1h-1zM444 396h1v1h-1zM442 397h2v1h-2zM441 398h1v1h-1zM440 399h1v1h-1zM439 400h1v1h-1zM438 401h1v1h-1zM437 402h1v1h-1zM436 403h1v1h-1zM435 404h1v1h-1zM434 405h1v1h-1zM433 406h1v1h-1zM432 407h1v1h-1zM431 408h1v1h-1zM430 409h1v1h-1zM428 410h2v1h-2zM427 411h1v1h-1zM426 412h1v1h-1zM425 413h1v1h-1zM424 414h1v1h-1zM423 415h1v1h-1zM421 416h2v1h-2zM419 417h2v1h-2zM417 418h2v1h-2zM415 419h2v1h-2zM413 420h2v1h-2zM411 421h2v1h-2zM408 422h3v1h-3zM406 423h2v1h-2zM404 424h2v1h-2zM402 425h2v1h-2zM400 426h2v1h-2zM398 427h2v1h-2zM396 428h2v1h-2zM393 429h3v1h-3zM391 430h2v1h-2zM389 431h2v1h-2zM387 432h2v1h-2zM385 433h2v1h-2zM383 434h2v1h-2zM381 435h2v1h-2zM380 436h1v1h-1zM379 437h1v1h-1zM378 438h1v1h-1zM377 439h1v1h-1zM376 440h1v1h-1zM375 441h1v1h-1zM374 442h1v1h-1zM373 443h1v1h-1zM372 444h1v1h-1zM370 445h2v1h-2zM369 446h1v1h-1zM368 447h1v1h-1zM367 448h1v1h-1zM366 449h1v1h-1zM365 450h1v1h-1zM364 451h1v1h-1zM363 452h1v1h-1zM362 453h1v1h-1zM361 454h1v1h-1zM360 455h1v1h-1zM359 456h1v1h-1zM358 457h1v1h-1zM357 458h1v1h-1zM356 459h1v1h-1zM355 460h1v1h-1zM354 461h1v1h-1zM353 462h1v1h-1zM352 463h1v1h-1zM350 464h2v1h-2zM349 465h1v1h-1zM348 466h1v1h-1zM347 467h1v1h-1zM346 468h1v1h-1zM345 469h1v1h-1zM344 470h1v1h-1zM343 471h1v1h-1zM342 472h1v1h-1zM341 473h1v1h-1zM339 474h2v1h-2zM335 475h4v1h-4zM332 476h3v1h-3zM328 477h4v1h-4zM325 478h3v1h-3zM321 479h4v1h-4zM318 480h3v1h-3zM314 481h4v1h-4zM311 482h3v1h-3zM307 483h4v1h-4zM304 484h3v1h-3zM300 485h4v1h-4zM298 486h2v1h-2zM296 487h2v1h-2zM295 488h1v1h-1zM294 489h1v1h-1zM292 490h2v1h-2zM291 491h1v1h-1zM289 492h2v1h-2zM288 493h1v1h-1zM286 494h2v1h-2zM285 495h1v1h-1zM284 496h1v1h-1zM282 497h2v1h-2zM281 498h1v1h-1zM279 499h2v1h-2zM278 500h1v1h-1zM277 501h1v1h-1zM275 502h2v1h-2zM274 503h1v1h-1zM272 504h2v1h-2zM271 505h1v1h-1zM270 506h1v1h-1zM268 507h2v1h-2zM267 508h1v1h-1zM265 509h2v1h-2zM264 510h1v1h-1zM262 511h2v1h-2zM261 512h1v1h-1zM260 513h1v1h-1zM258 514h2v1h-2zM216 515h42v1h-42zM214 516h2v1h-2zM212 517h2v1h-2zM210 518h2v1h-2zM208 519h2v1h-2zM207 520h1v1h-1zM205 521h2v1h-2zM203 522h2v1h-2zM201 523h2v1h-2zM200 524h1v1h-1zM198 525h2v1h-2zM196 526h2v1h-2zM194 527h2v1h-2zM192 528h2v1h-2zM191 529h1v1h-1zM189 530h2v1h-2zM187 531h2v1h-2zM185 532h2v1h-2zM184 533h1v1h-1zM182 534h2v1h-2zM180 535h2v1h-2zM178 536h2v1h-2zM176 537h2v1h-2zM92 538h84v1h-84z" fill="#0000ff" shape-rendering="crispEdges"/>
<path d="M90 537h5v5h-5z M92 536h1v1h-1z M92 542h1v1h-1z M89 539h1v1h-1z M95 539h1v1h-1z" fill="#0000ff" shape-rendering="crispEdges"/>
<path d="M131 537h5v5h-5z M133 536h1v1h-1z M133 542h1v1h-1z M130 539h1v1h-1z M136 539h1v1h-1z" fill="#0000ff" shape-rendering="crispEdges"/>
<path d="M173 537h5v5h-5z M175 536h1v1h-1z M175 542h1v1h-1z M172 539h1v1h-1z M178 539h1v1h-1z" fill="#0000ff" shape-rendering="crispEdges"/>
<path d="M214 514h5v5h-5z M216 513h1v1h-1z M216 519h1v1h-1z M213 516h1v1h-1z M219 516h1v1h-1z" fill="#0000ff" shape-rendering="crispEdges"/>
<path d="M255 514h5v5h-5z M257 513h1v1h-1z M257 519h1v1h-1z M254 516h1v1h-1z M260 516h1v1h-1z" fill="#0000ff" shape-rendering="crispEdges"/>
<path d="M296 484h5v5h-5z M298 483h1v1h-1z M298 489h1v1h-1z M295 486h1v1h-1z M301 486h1v1h-1z" fill="#0000ff" shape-rendering="crispEdges"/>
<path d="M338 473h5v5h-5z M340 472h1v1h-1z M340 478h1v1h-1z M337 475h1v1h-1z M343 475h1v1h-1z" fill="#0000ff" shape-rendering="crispEdges"/>
<path d="M379 434h5v5h-5z M381 433h1v1h-1z M381 439h1v1h-1z M378 436h1v1h-1z M384 436h1v1h-1z" fill="#0000ff" shape-rendering="crispEdges"/>
<path d="M420 414h5v5h-5z M422 413h1v1h-1z M422 419h1v1h-1z M419 416h1v1h-1z M425 416h1v1h-1z" fill="#0000ff" shape-rendering="crispEdges"/>
<path d="M461 377h5v5h-5z M463 376h1v1h-1z M463 382h1v1h-1z M460 379h1v1h-1z M466 379h1v1h-1z" fill="#0000ff" shape-rendering="crispEdges"/>
<path d="M502 350h5v5h-5z M504 349h1v1h-1z M504 355h1v1h-1z M501 352h1v1h-1z M507 352h1v1h-1z" fill="#0000ff" shape-rendering="crispEdges"/>
<path d="M544 329h5v5h-5z M546 328h1v1h-1z M546 334h1v1h-1z M543 331h1v1h-1z M549 331h1v1h-1z" fill="#0000ff" shape-rendering="crispEdges"/>
<path d="M585 307h5v5h-5z M587 306h1v1h-1z M587 312h1v1h-1z M584 309h1v1h-1z M590 309h1v1h-1z" fill="#0000ff" shape-rendering="crispEdges"/>
<path d="M626 287h5v5h-5z M628 286h1v1h-1z M628 292h1v1h-1z M625 289h1v1h-1z M631 289h1v1h-1z" fill="#0000ff" shape-rendering="crispEdges"/>
<path d="M667 263h5v5h-5z M669 262h1v1h-1z M669 268h1v1h-1z M666 265h1v1h-1z M672 265h1v1h-1z" fill="#0000ff" shape-rendering="crispEdges"/>
<path d="M708 230h5v5h-5z M710 229h1v1h-1z M710 235h1v1h-1z M707 232h1v1h-1z M713 232h1v1h-1z" fill="#0000ff" shape-rendering="crispEdges"/>
<path d="M750 180h5v5h-5z M752 179h1v1h-1z M752 185h1v1h-1z M749 182h1v1h-1z M755 182h1v1h-1z" fill="#0000ff" shape-rendering="crispEdges"/>
<path d="M791 164h5v5h-5z M793 163h1v1h-1z M793 169h1v1h-1z M790 166h1v1h-1z M796 166h1v1h-1z" fill="#0000ff" shape-rendering="crispEdges"/>
<path d="M832 164h5v5h-5z M834 163h1v1h-1z M834 169h1v1h-1z M831 166h1v1h-1z M837 166h1v1h-1z" fill="#0000ff" shape-rendering="crispEdges"/>
<path d="M873 121h5v5h-5z M875 120h1v1h-1z M875 126h1v1h-1z M872 123h1v1h-1z M878 123h1v1h-1z" fill="#0000ff" shape-rendering="crispEdges"/>
<path d="M915 121h5v5h-5z M917 120h1v1h-1z M917 126h1v1h-1z M914 123h1v1h-1z M920 123h1v1h-1z" fill="#0000ff" shape-rendering="crispEdges"/>
<path d="M956 21h5v5h-5z M958 20h1v1h-1z M958 26h1v1h-1z M955 23h1v1h-1z M961 23h1v1h-1z" fill="#0000ff" shape-rendering="crispEdges"/>
<path d="M958 74h1v1h-1zM957 75h1v1h-1zM957 76h1v1h-1zM956 77h1v1h-1zM955 78h1v1h-1zM954 79h1v1h-1zM954 80h1v1h-1zM953 81h1v1h-1zM952 82h1v1h-1zM952 83h1v1h-1zM951 84h1v1h-1zM950 85h1v1h-1zM949 86h1v1h-1zM949 87h1v1h-1zM948 88h1v1h-1zM947 89h1v1h-1zM946 90h1v1h-1zM946 91h1v1h-1zM945 92h1v1h-1zM944 93h1v1h-1zM944 94h1v1h-1zM943 95h1v1h-1zM942 96h1v1h-1zM941 97h1v1h-1zM941 98h1v1h-1zM940 99h1v1h-1zM939 100h1v1h-1zM939 101h1v1h-1zM938 102h1v1h-1zM937 103h1v1h-1zM936 104h1v1h-1zM936 105h1v1h-1zM935 106h1v1h-1zM934 107h1v1h-1zM934 108h1v1h-1zM933 109h1v1h-1zM932 110h1v1h-1zM931 111h1v1h-1zM931 112h1v1h-1zM930 113h1v1h-1zM929 114h1v1h-1zM929 115h1v1h-1zM928 116h1v1h-1zM927 117h1v1h-1zM926 118h1v1h-1zM926 119h1v1h-1zM925 120h1v1h-1zM924 121h1v1h-1zM923 122h1v1h-1zM923 123h1v1h-1zM922 124h1v1h-1zM921 125h1v1h-1zM921 126h1v1h-1zM920 127h1v1h-1zM919 128h1v1h-1zM918 129h1v1h-1zM918 130h1v1h-1zM917 131h1v1h-1zM916 132h1v1h-1zM914 133h2v1h-2zM913 134h1v1h-1zM912 135h1v1h-1zM911 136h1v1h-1zM909 137h2v1h-2zM908 138h1v1h-1zM907 139h1v1h-1zM906 140h1v1h-1zM905 141h1v1h-1zM903 142h2v1h-2zM902 143h1v1h-1zM901 144h1v1h-1zM900 145h1v1h-1zM898 146h2v1h-2zM897 147h1v1h-1zM896 148h1v1h-1zM895 149h1v1h-1zM893 150h2v1h-2zM892 151h1v1h-1zM891 152h1v1h-1zM890 153h1v1h-1zM888 154h2v1h-2zM887 155h1v1h-1zM886 156h1v1h-1zM885 157h1v1h-1zM884 158h1v1h-1zM882 159h2v1h-2zM881 160h1v1h-1zM880 161h1v1h-1zM879 162h1v1h-1zM877 163h2v1h-2zM876 164h1v1h-1zM875 165h1v1h-1zM874 166h1v1h-1zM874 167h1v1h-1zM873 168h1v1h-1zM872 169h1v1h-1zM872 170h1v1h-1zM871 171h1v1h-1zM871 172h1v1h-1zM870 173h1v1h-1zM869 174h1v1h-1zM869 175h1v1h-1zM868 176h1v1h-1zM867 177h1v1h-1zM867 178h1v1h-1zM866 179h1v1h-1zM865 180h1v1h-1zM865 181h1v1h-1zM864 182h1v1h-1zM863 183h1v1h-1zM863 184h1v1h-1zM862 185h1v1h-1zM862 186h1v1h-1zM861 187h1v1h-1zM860 188h1v1h-1zM860 189h1v1h-1zM859 190h1v1h-1zM858 191h1v1h-1zM858 192h1v1h-1zM857 193h1v1h-1zM856 194h1v1h-1zM856 195h1v1h-1zM855 196h1v1h-1zM855 197h1v1h-1zM854 198h1v1h-1zM853 199h1v1h-1zM853 200h1v1h-1zM852 201h1v1h-1zM851 202h1v1h-1zM851 203h1v1h-1zM850 204h1v1h-1zM849 205h1v1h-1zM849 206h1v1h-1zM848 207h1v1h-1zM847 208h1v1h-1zM847 209h1v1h-1zM846 210h1v1h-1zM846 211h1v1h-1zM845 212h1v1h-1zM844 213h1v1h-1zM844 214h1v1h-1zM843 215h1v1h-1zM842 216h1v1h-1zM842 217h1v1h-1zM841 218h1v1h-1zM840 219h1v1h-1zM840 220h1v1h-1zM839 221h1v1h-1zM838 222h1v1h-1zM838 223h1v1h-1zM837 224h1v1h-1zM837 225h1v1h-1zM836 226h1v1h-1zM835 227h1v1h-1zM835 228h1v1h-1zM834 229h1v1h-1zM832 230h2v1h-2zM830 231h2v1h-2zM828 232h2v1h-2zM826 233h2v1h-2zM825 234h1v1h-1zM823 235h2v1h-2zM821 236h2v1h-2zM819 237h2v1h-2zM818 238h1v1h-1zM816 239h2v1h-2zM814 240h2v1h-2zM812 241h2v1h-2zM810 242h2v1h-2zM809 243h1v1h-1zM807 244h2v1h-2zM805 245h2v1h-2zM803 246h2v1h-2zM802 247h1v1h-1zM800 248h2v1h-2zM798 249h2v1h-2zM796 250h2v1h-2zM794 251h2v1h-2zM792 252h2v1h-2zM789 253h3v1h-3zM787 254h2v1h-2zM784 255h3v1h-3zM781 256h3v1h-3zM778 257h3v1h-3zM776 258h2v1h-2zM773 259h3v1h-3zM770 260h3v1h-3zM768 261h2v1h-2zM765 262h3v1h-3zM762 263h3v1h-3zM759 264h3v1h-3zM757 265h2v1h-2zM754 266h3v1h-3zM752 267h2v1h-2zM751 268h1v1h-1zM749 269h2v1h-2zM748 270h1v1h-1zM747 271h1v1h-1zM745 272h2v1h-2zM744 273h1v1h-1zM743 274h1v1h-1zM742 275h1v1h-1zM740 276h2v1h-2zM739 277h1v1h-1zM738 278h1v1h-1zM737 279h1v1h-1zM735 280h2v1h-2zM734 281h1v1h-1zM733 282h1v1h-1zM731 283h2v1h-2zM730 284h1v1h-1zM729 285h1v1h-1zM728 286h1v1h-1zM726 287h2v1h-2zM725 288h1v1h-1zM724 289h1v1h-1zM723 290h1v1h-1zM721 291h2v1h-2zM720 292h1v1h-1zM719 293h1v1h-1zM717 294h2v1h-2zM716 295h1v1h-1zM715 296h1v1h-1zM714 297h1v1h-1zM712 298h2v1h-2zM711 299h1v1h-1zM710 300h1v1h-1zM708 301h2v1h-2zM707 302h1v1h-1zM706 303h1v1h-1zM704 304h2v1h-2zM703 305h1v1h-1zM702 306h1v1h-1zM700 307h2v1h-2zM699 308h1v1h-1zM698 309h1v1h-1zM696 310h2v1h-2zM695 311h1v1h-1zM693 312h2v1h-2zM692 313h1v1h-1zM691 314h1v1h-1zM689 315h2v1h-2zM688 316h1v1h-1zM687 317h1v1h-1zM685 318h2v1h-2zM684 319h1v1h-1zM682 320h2v1h-2zM681 321h1v1h-1zM680 322h1v1h-1zM678 323h2v1h-2zM677 324h1v1h-1zM676 325h1v1h-1zM674 326h2v1h-2zM673 327h1v1h-1zM672 328h1v1h-1zM670 329h2v1h-2zM669 330h1v1h-1zM667 331h2v1h-2zM665 332h2v1h-2zM663 333h2v1h-2zM661 334h2v1h-2zM659 335h2v1h-2zM657 336h2v1h-2zM656 337h1v1h-1zM654 338h2v1h-2zM652 339h2v1h-2zM650 340h2v1h-2zM648 341h2v1h-2zM646 342h2v1h-2zM644 343h2v1h-2zM642 344h2v1h-2zM641 345h1v1h-1zM639 346h2v1h-2zM637 347h2v1h-2zM635 348h2v1h-2zM633 349h2v1h-2zM631 350h2v1h-2zM629 351h2v1h-2zM627 352h2v1h-2zM625 353h2v1h-2zM623 354h2v1h-2zM621 355h2v1h-2zM618 356h3v1h-3zM616 357h2v1h-2zM614 358h2v1h-2zM611 359h3v1h-3zM609 360h2v1h-2zM607 361h2v1h-2zM605 362h2v1h-2zM602 363h3v1h-3zM600 364h2v1h-2zM598 365h2v1h-2zM595 366h3v1h-3zM593 367h2v1h-2zM591 368h2v1h-2zM589 369h2v1h-2zM585 370h4v1h-4zM581 371h4v1h-4zM577 372h4v1h-4zM573 373h4v1h-4zM569 374h4v1h-4zM565 375h4v1h-4zM561 376h4v1h-4zM557 377h4v1h-4zM553 378h4v1h-4zM549 379h4v1h-4zM504 380h45v1h-45zM422 454h1v1h-1zM420 455h2v1h-2zM418 456h2v1h-2zM416 457h2v1h-2zM414 458h2v1h-2zM412 459h2v1h-2zM410 460h2v1h-2zM408 461h2v1h-2zM406 462h2v1h-2zM404 463h2v1h-2zM402 464h2v1h-2zM400 465h2v1h-2zM398 466h2v1h-2zM396 467h2v1h-2zM394 468h2v1h-2zM392 469h2v1h-2zM390 470h2v1h-2zM388 471h2v1h-2zM386 472h2v1h-2zM384 473h2v1h-2zM382 474h2v1h-2zM380 475h2v1h-2zM377 476h3v1h-3zM374 477h3v1h-3zM370 478h4v1h-4zM367 479h3v1h-3zM364 480h3v1h-3zM361 481h3v1h-3zM358 482h3v1h-3zM355 483h3v1h-3zM352 484h3v1h-3zM348 485h4v1h-4zM345 486h3v1h-3zM342 487h3v1h-3zM338 488h4v1h-4zM333 489h5v1h-5zM329 490h4v1h-4zM324 491h5v1h-5zM319 492h5v1h-5zM315 493h4v1h-4zM310 494h5v1h-5zM305 495h5v1h-5zM301 496h4v1h-4zM298 497h3v1h-3zM296 498h2v1h-2zM294 499h2v1h-2zM293 500h1v1h-1zM291 501h2v1h-2zM289 502h2v1h-2zM287 503h2v1h-2zM286 504h1v1h-1zM284 505h2v1h-2zM282 506h2v1h-2zM281 507h1v1h-1zM279 508h2v1h-2zM277 509h2v1h-2zM275 510h2v1h-2zM274 511h1v1h-1zM272 512h2v1h-2zM270 513h2v1h-2zM269 514h1v1h-1zM267 515h2v1h-2zM265 516h2v1h-2zM263 517h2v1h-2zM262 518h1v1h-1zM260 519h2v1h-2zM258 520h2v1h-2zM257 521h1v1h-1zM255 522h2v1h-2zM253 523h2v1h-2zM251 524h2v1h-2zM249 525h2v1h-2zM247 526h2v1h-2zM245 527h2v1h-2zM244 528h1v1h-1zM242 529h2v1h-2zM240 530h2v1h-2zM238 531h2v1h-2zM236 532h2v1h-2zM234 533h2v1h-2zM232 534h2v1h-2zM230 535h2v1h-2zM229 536h1v1h-1zM227 537h2v1h-2zM225 538h2v1h-2zM223 539h2v1h-2zM221 540h2v1h-2zM219 541h2v1h-2zM217 542h2v1h-2zM92 543h125v1h-125z" fill="#808000" shape-rendering="crispEdges"/>
<path d="M90 542h5v5h-5z M92 541h1v1h-1z M92 547h1v1h-1z M89 544h1v1h-1z M95 544h1v1h-1z" fill="#808000" shape-rendering="crispEdges"/>
<path d="M131 542h5v5h-5z M133 541h1v1h-1z M133 547h1v1h-1z M130 544h1v1h-1z M136 544h1v1h-1z" fill="#808000" shape-rendering="crispEdges"/>
<path d="M173 542h5v5h-5z M175 541h1v1h-1z M175 547h1v1h-1z M172 544h1v1h-1z M178 544h1v1h-1z" fill="#808000" shape-rendering="crispEdges"/>
<path d="M214 542h5v5h-5z M216 541h1v1h-1z M216 547h1v1h-1z M213 544h1v1h-1z M219 544h1v1h-1z" fill="#808000" shape-rendering="crispEdges"/>
<path d="M255 519h5v5h-5z M257 518h1v1h-1z M257 524h1v1h-1z M254 521h1v1h-1z M260 521h1v1h-1z" fill="#808000" shape-rendering="crispEdges"/>
<path d="M296 496h5v5h-5z M298 495h1v1h-1z M298 501h1v1h-1z M295 498h1v1h-1z M301 498h1v1h-1z" fill="#808000" shape-rendering="crispEdges"/>
<path d="M338 487h5v5h-5z M340 486h1v1h-1z M340 492h1v1h-1z M337 489h1v1h-1z M343 489h1v1h-1z" fill="#808000" shape-rendering="crispEdges"/>
<path d="M379 474h5v5h-5z M381 473h1v1h-1z M381 479h1v1h-1z M378 476h1v1h-1z M384 476h1v1h-1z" fill="#808000" shape-rendering="crispEdges"/>
<path d="M420 452h5v5h-5z M422 451h1v1h-1z M422 457h1v1h-1z M419 454h1v1h-1z M425 454h1v1h-1z" fill="#808000" shape-rendering="crispEdges"/>
<path d="M502 378h5v5h-5z M504 377h1v1h-1z M504 383h1v1h-1z M501 380h1v1h-1z M507 380h1v1h-1z" fill="#808000" shape-rendering="crispEdges"/>
<path d="M544 378h5v5h-5z M546 377h1v1h-1z M546 383h1v1h-1z M543 380h1v1h-1z M549 380h1v1h-1z" fill="#808000" shape-rendering="crispEdges"/>
<path d="M585 369h5v5h-5z M587 368h1v1h-1z M587 374h1v1h-1z M584 371h1v1h-1z M590 371h1v1h-1z" fill="#808000" shape-rendering="crispEdges"/>
<path d="M626 350h5v5h-5z M628 349h1v1h-1z M628 355h1v1h-1z M625 352h1v1h-1z M631 352h1v1h-1z" fill="#808000" shape-rendering="crispEdges"/>
<path d="M667 329h5v5h-5z M669 328h1v1h-1z M669 334h1v1h-1z M666 331h1v1h-1z M672 331h1v1h-1z" fill="#808000" shape-rendering="crispEdges"/>
<path d="M708 299h5v5h-5z M710 298h1v1h-1z M710 304h1v1h-1z M707 301h1v1h-1z M713 301h1v1h-1z" fill="#808000" shape-rendering="crispEdges"/>
<path d="M750 265h5v5h-5z M752 264h1v1h-1z M752 270h1v1h-1z M749 267h1v1h-1z M755 267h1v1h-1z" fill="#808000" shape-rendering="crispEdges"/>
<path d="M791 251h5v5h-5z M793 250h1v1h-1z M793 256h1v1h-1z M790 253h1v1h-1z M796 253h1v1h-1z" fill="#808000" shape-rendering="crispEdges"/>
<path d="M832 228h5v5h-5z M834 227h1v1h-1z M834 233h1v1h-1z M831 230h1v1h-1z M837 230h1v1h-1z" fill="#808000" shape-rendering="crispEdges"/>
<path d="M873 164h5v5h-5z M875 163h1v1h-1z M875 169h1v1h-1z M872 166h1v1h-1z M878 166h1v1h-1z" fill="#808000" shape-rendering="crispEdges"/>
<path d="M915 129h5v5h-5z M917 128h1v1h-1z M917 134h1v1h-1z M914 131h1v1h-1z M920 131h1v1h-1z" fill="#808000" shape-rendering="crispEdges"/>
<path d="M956 73h5v5h-5z M958 72h1v1h-1z M958 78h1v1h-1z M955 75h1v1h-1z M961 75h1v1h-1z" fill="#808000" shape-rendering="crispEdges"/>
<path d="M958 117h1v1h-1zM958 118h1v1h-1zM957 119h1v1h-1zM957 120h1v1h-1zM956 121h1v1h-1zM956 122h1v1h-1zM955 123h1v1h-1zM955 124h1v1h-1zM954 125h1v1h-1zM954 126h1v1h-1zM954 127h1v1h-1zM953 128h1v1h-1zM953 129h1v1h-1zM952 130h1v1h-1zM952 131h1v1h-1zM951 132h1v1h-1zM951 133h1v1h-1zM951 134h1v1h-1zM950 135h1v1h-1zM950 136h1v1h-1zM949 137h1v1h-1zM949 138h1v1h-1zM948 139h1v1h-1zM948 140h1v1h-1zM947 141h1v1h-1zM947 142h1v1h-1zM947 143h1v1h-1zM946 144h1v1h-1zM946 145h1v1h-1zM945 146h1v1h-1zM945 147h1v1h-1zM944 148h1v1h-1zM944 149h1v1h-1zM943 150h1v1h-1zM943 151h1v1h-1zM943 152h1v1h-1zM942 153h1v1h-1zM942 154h1v1h-1zM941 155h1v1h-1zM941 156h1v1h-1zM940 157h1v1h-1zM940 158h1v1h-1zM939 159h1v1h-1zM939 160h1v1h-1zM939 161h1v1h-1zM938 162h1v1h-1zM938 163h1v1h-1zM937 164h1v1h-1zM937 165h1v1h-1zM936 166h1v1h-1zM936 167h1v1h-1zM936 168h1v1h-1zM935 169h1v1h-1zM935 170h1v1h-1zM934 171h1v1h-1zM934 172h1v1h-1zM933 173h1v1h-1zM933 174h1v1h-1zM932 175h1v1h-1zM932 176h1v1h-1zM932 177h1v1h-1zM931 178h1v1h-1zM931 179h1v1h-1zM930 180h1v1h-1zM930 181h1v1h-1zM929 182h1v1h-1zM929 183h1v1h-1zM928 184h1v1h-1zM928 185h1v1h-1zM928 186h1v1h-1zM927 187h1v1h-1zM927 188h1v1h-1zM926 189h1v1h-1zM926 190h1v1h-1zM925 191h1v1h-1zM925 192h1v1h-1zM924 193h1v1h-1zM924 194h1v1h-1zM924 195h1v1h-1zM923 196h1v1h-1zM923 197h1v1h-1zM922 198h1v1h-1zM922 199h1v1h-1zM921 200h1v1h-1zM921 201h1v1h-1zM921 202h1v1h-1zM920 203h1v1h-1zM920 204h1v1h-1zM919 205h1v1h-1zM919 206h1v1h-1zM918 207h1v1h-1zM918 208h1v1h-1zM917 209h1v1h-1zM874 210h44v1h-44zM872 211h2v1h-2zM870 212h2v1h-2zM868 213h2v1h-2zM866 214h2v1h-2zM864 215h2v1h-2zM861 216h3v1h-3zM859 217h2v1h-2zM857 218h2v1h-2zM855 219h2v1h-2zM853 220h2v1h-2zM851 221h2v1h-2zM849 222h2v1h-2zM846 223h3v1h-3zM844 224h2v1h-2zM842 225h2v1h-2zM840 226h2v1h-2zM838 227h2v1h-2zM836 228h2v1h-2zM792 229h44v1h-44zM789 230h3v1h-3zM787 231h2v1h-2zM784 232h3v1h-3zM781 233h3v1h-3zM778 234h3v1h-3zM776 235h2v1h-2zM773 236h3v1h-3zM770 237h3v1h-3zM768 238h2v1h-2zM765 239h3v1h-3zM762 240h3v1h-3zM759 241h3v1h-3zM757 242h2v1h-2zM754 243h3v1h-3zM752 244h2v1h-2zM751 245h1v1h-1zM750 246h1v1h-1zM750 247h1v1h-1zM749 248h1v1h-1zM748 249h1v1h-1zM747 250h1v1h-1zM747 251h1v1h-1zM746 252h1v1h-1zM745 253h1v1h-1zM744 254h1v1h-1zM743 255h1v1h-1zM743 256h1v1h-1zM742 257h1v1h-1zM741 258h1v1h-1zM740 259h1v1h-1zM740 260h1v1h-1zM739 261h1v1h-1zM738 262h1v1h-1zM737 263h1v1h-1zM736 264h1v1h-1zM736 265h1v1h-1zM735 266h1v1h-1zM734 267h1v1h-1zM733 268h1v1h-1zM733 269h1v1h-1zM732 270h1v1h-1zM731 271h1v1h-1zM730 272h1v1h-1zM729 273h1v1h-1zM729 274h1v1h-1zM728 275h1v1h-1zM727 276h1v1h-1zM726 277h1v1h-1zM726 278h1v1h-1zM725 279h1v1h-1zM724 280h1v1h-1zM723 281h1v1h-1zM722 282h1v1h-1zM722 283h1v1h-1zM721 284h1v1h-1zM720 285h1v1h-1zM719 286h1v1h-1zM719 287h1v1h-1zM718 288h1v1h-1zM717 289h1v1h-1zM716 290h1v1h-1zM715 291h1v1h-1zM715 292h1v1h-1zM714 293h1v1h-1zM713 294h1v1h-1zM712 295h1v1h-1zM712 296h1v1h-1zM711 297h1v1h-1zM710 298h1v1h-1zM709 299h1v1h-1zM708 300h1v1h-1zM708 301h1v1h-1zM707 302h1v1h-1zM706 303h1v1h-1zM705 304h1v1h-1zM704 305h1v1h-1zM703 306h1v1h-1zM703 307h1v1h-1zM702 308h1v1h-1zM701 309h1v1h-1zM700 310h1v1h-1zM699 311h1v1h-1zM699 312h1v1h-1zM698 313h1v1h-1zM697 314h1v1h-1zM696 315h1v1h-1zM695 316h1v1h-1zM694 317h1v1h-1zM694 318h1v1h-1zM693 319h1v1h-1zM692 320h1v1h-1zM691 321h1v1h-1zM690 322h1v1h-1zM690 323h1v1h-1zM689 324h1v1h-1zM688 325h1v1h-1zM687 326h1v1h-1zM686 327h1v1h-1zM685 328h1v1h-1zM685 329h1v1h-1zM684 330h1v1h-1zM683 331h1v1h-1zM682 332h1v1h-1zM681 333h1v1h-1zM680 334h1v1h-1zM680 335h1v1h-1zM679 336h1v1h-1zM678 337h1v1h-1zM677 338h1v1h-1zM676 339h1v1h-1zM676 340h1v1h-1zM675 341h1v1h-1zM674 342h1v1h-1zM673 343h1v1h-1zM672 344h1v1h-1zM671 345h1v1h-1zM671 346h1v1h-1zM670 347h1v1h-1zM669 348h1v1h-1zM667 349h2v1h-2zM665 350h2v1h-2zM663 351h2v1h-2zM661 352h2v1h-2zM659 353h2v1h-2zM657 354h2v1h-2zM656 355h1v1h-1zM654 356h2v1h-2zM652 357h2v1h-2zM650 358h2v1h-2zM648 359h2v1h-2zM646 360h2v1h-2zM644 361h2v1h-2zM642 362h2v1h-2zM641 363h1v1h-1zM639 364h2v1h-2zM637 365h2v1h-2zM635 366h2v1h-2zM633 367h2v1h-2zM631 368h2v1h-2zM629 369h2v1h-2zM627 370h2v1h-2zM625 371h2v1h-2zM623 372h2v1h-2zM621 373h2v1h-2zM619 374h2v1h-2zM617 375h2v1h-2zM614 376h3v1h-3zM612 377h2v1h-2zM610 378h2v1h-2zM608 379h2v1h-2zM606 380h2v1h-2zM604 381h2v1h-2zM602 382h2v1h-2zM599 383h3v1h-3zM597 384h2v1h-2zM595 385h2v1h-2zM593 386h2v1h-2zM591 387h2v1h-2zM589 388h2v1h-2zM586 389h3v1h-3zM584 390h2v1h-2zM582 391h2v1h-2zM580 392h2v1h-2zM578 393h2v1h-2zM576 394h2v1h-2zM574 395h2v1h-2zM572 396h2v1h-2zM570 397h2v1h-2zM568 398h2v1h-2zM566 399h2v1h-2zM564 400h2v1h-2zM562 401h2v1h-2zM560 402h2v1h-2zM558 403h2v1h-2zM556 404h2v1h-2zM554 405h2v1h-2zM552 406h2v1h-2zM550 407h2v1h-2zM548 408h2v1h-2zM545 409h3v1h-3zM543 410h2v1h-2zM541 411h2v1h-2zM539 412h2v1h-2zM537 413h2v1h-2zM534 414h3v1h-3zM532 415h2v1h-2zM530 416h2v1h-2zM528 417h2v1h-2zM525 418h3v1h-3zM523 419h2v1h-2zM521 420h2v1h-2zM519 421h2v1h-2zM517 422h2v1h-2zM514 423h3v1h-3zM512 424h2v1h-2zM510 425h2v1h-2zM508 426h2v1h-2zM506 427h2v1h-2zM502 428h4v1h-4zM498 429h4v1h-4zM493 430h5v1h-5zM489 431h4v1h-4zM484 432h5v1h-5zM479 433h5v1h-5zM475 434h4v1h-4zM470 435h5v1h-5zM466 436h4v1h-4zM461 437h5v1h-5zM456 438h5v1h-5zM451 439h5v1h-5zM446 440h5v1h-5zM440 441h6v1h-6zM435 442h5v1h-5zM430 443h5v1h-5zM425 444h5v1h-5zM421 445h4v1h-4zM419 446h2v1h-2zM416 447h3v1h-3zM414 448h2v1h-2zM412 449h2v1h-2zM409 450h3v1h-3zM407 451h2v1h-2zM404 452h3v1h-3zM402 453h2v1h-2zM400 454h2v1h-2zM397 455h3v1h-3zM395 456h2v1h-2zM392 457h3v1h-3zM390 458h2v1h-2zM388 459h2v1h-2zM385 460h3v1h-3zM383 461h2v1h-2zM380 462h3v1h-3zM377 463h3v1h-3zM374 464h3v1h-3zM370 465h4v1h-4zM367 466h3v1h-3zM364 467h3v1h-3zM361 468h3v1h-3zM358 469h3v1h-3zM355 470h3v1h-3zM352 471h3v1h-3zM348 472h4v1h-4zM345 473h3v1h-3zM342 474h3v1h-3zM339 475h3v1h-3zM335 476h4v1h-4zM331 477h4v1h-4zM327 478h4v1h-4zM323 479h4v1h-4zM319 480h4v1h-4zM316 481h3v1h-3zM312 482h4v1h-4zM308 483h4v1h-4zM304 484h4v1h-4zM300 485h4v1h-4zM298 486h2v1h-2zM297 487h1v1h-1zM295 488h2v1h-2zM294 489h1v1h-1zM293 490h1v1h-1zM291 491h2v1h-2zM290 492h1v1h-1zM289 493h1v1h-1zM287 494h2v1h-2zM286 495h1v1h-1zM285 496h1v1h-1zM283 497h2v1h-2zM282 498h1v1h-1zM281 499h1v1h-1zM279 500h2v1h-2zM278 501h1v1h-1zM277 502h1v1h-1zM275 503h2v1h-2zM274 504h1v1h-1zM273 505h1v1h-1zM271 506h2v1h-2zM270 507h1v1h-1zM269 508h1v1h-1zM267 509h2v1h-2zM266 510h1v1h-1zM265 511h1v1h-1zM263 512h2v1h-2zM262 513h1v1h-1zM261 514h1v1h-1zM259 515h2v1h-2zM258 516h1v1h-1zM257 517h1v1h-1z" fill="#ff00ff" shape-rendering="crispEdges"/>
<path d="M255 516h5v5h-5z M257 515h1v1h-1z M257 521h1v1h-1z M254 518h1v1h-1z M260 518h1v1h-1z" fill="#ff00ff" shape-rendering="crispEdges"/>
<path d="M296 484h5v5h-5z M298 483h1v1h-1z M298 489h1v1h-1z M295 486h1v1h-1z M301 486h1v1h-1z" fill="#ff00ff" shape-rendering="crispEdges"/>
<path d="M338 474h5v5h-5z M340 473h1v1h-1z M340 479h1v1h-1z M337 476h1v1h-1z M343 476h1v1h-1z" fill="#ff00ff" shape-rendering="crispEdges"/>
<path d="M379 460h5v5h-5z M381 459h1v1h-1z M381 465h1v1h-1z M378 462h1v1h-1z M384 462h1v1h-1z" fill="#ff00ff" shape-rendering="crispEdges"/>
<path d="M420 444h5v5h-5z M422 443h1v1h-1z M422 449h1v1h-1z M419 446h1v1h-1z M425 446h1v1h-1z" fill="#ff00ff" shape-rendering="crispEdges"/>
<path d="M461 435h5v5h-5z M463 434h1v1h-1z M463 440h1v1h-1z M460 437h1v1h-1z M466 437h1v1h-1z" fill="#ff00ff" shape-rendering="crispEdges"/>
<path d="M502 426h5v5h-5z M504 425h1v1h-1z M504 431h1v1h-1z M501 428h1v1h-1z M507 428h1v1h-1z" fill="#ff00ff" shape-rendering="crispEdges"/>
<path d="M544 408h5v5h-5z M546 407h1v1h-1z M546 413h1v1h-1z M543 410h1v1h-1z M549 410h1v1h-1z" fill="#ff00ff" shape-rendering="crispEdges"/>
<path d="M585 387h5v5h-5z M587 386h1v1h-1z M587 392h1v1h-1z M584 389h1v1h-1z M590 389h1v1h-1z" fill="#ff00ff" shape-rendering="crispEdges"/>
<path d="M626 369h5v5h-5z M628 368h1v1h-1z M628 374h1v1h-1z M625 371h1v1h-1z M631 371h1v1h-1z" fill="#ff00ff" shape-rendering="crispEdges"/>
<path d="M667 347h5v5h-5z M669 346h1v1h-1z M669 352h1v1h-1z M666 349h1v1h-1z M672 349h1v1h-1z" fill="#ff00ff" shape-rendering="crispEdges"/>
<path d="M708 296h5v5h-5z M710 295h1v1h-1z M710 301h1v1h-1z M707 298h1v1h-1z M713 298h1v1h-1z" fill="#ff00ff" shape-rendering="crispEdges"/>
<path d="M750 243h5v5h-5z M752 242h1v1h-1z M752 248h1v1h-1z M749 245h1v1h-1z M755 245h1v1h-1z" fill="#ff00ff" shape-rendering="crispEdges"/>
<path d="M791 228h5v5h-5z M793 227h1v1h-1z M793 233h1v1h-1z M790 230h1v1h-1z M796 230h1v1h-1z" fill="#ff00ff" shape-rendering="crispEdges"/>
<path d="M832 228h5v5h-5z M834 227h1v1h-1z M834 233h1v1h-1z M831 230h1v1h-1z M837 230h1v1h-1z" fill="#ff00ff" shape-rendering="crispEdges"/>
<path d="M873 209h5v5h-5z M875 208h1v1h-1z M875 214h1v1h-1z M872 211h1v1h-1z M878 211h1v1h-1z" fill="#ff00ff" shape-rendering="crispEdges"/>
<path d="M915 209h5v5h-5z M917 208h1v1h-1z M917 214h1v1h-1z M914 211h1v1h-1z M920 211h1v1h-1z" fill="#ff00ff" shape-rendering="crispEdges"/>
<path d="M956 115h5v5h-5z M958 114h1v1h-1z M958 120h1v1h-1z M955 117h1v1h-1z M961 117h1v1h-1z" fill="#ff00ff" shape-rendering="crispEdges"/>
<g font-size="9.5" fill="#000080" font-weight="bold" class="sans">
<text x="79" y="538" textLength="24" lengthAdjust="spacingAndGlyphs">65378</text>
<text x="120" y="538" textLength="24" lengthAdjust="spacingAndGlyphs">65378</text>
<text x="162" y="556" textLength="24" lengthAdjust="spacingAndGlyphs">63866</text>
<text x="203" y="556" textLength="24" lengthAdjust="spacingAndGlyphs">63866</text>
<text x="244" y="525" textLength="24" lengthAdjust="spacingAndGlyphs">66480</text>
<text x="285" y="495" textLength="24" lengthAdjust="spacingAndGlyphs">69128</text>
<text x="327" y="486" textLength="24" lengthAdjust="spacingAndGlyphs">69853</text>
<text x="368" y="479" textLength="24" lengthAdjust="spacingAndGlyphs">70460</text>
<text x="409" y="430" textLength="24" lengthAdjust="spacingAndGlyphs">74583</text>
<text x="450" y="409" textLength="24" lengthAdjust="spacingAndGlyphs">76384</text>
<text x="491" y="384" textLength="24" lengthAdjust="spacingAndGlyphs">78522</text>
<text x="533" y="364" textLength="24" lengthAdjust="spacingAndGlyphs">80250</text>
<text x="574" y="343" textLength="24" lengthAdjust="spacingAndGlyphs">82016</text>
<text x="615" y="320" textLength="24" lengthAdjust="spacingAndGlyphs">83943</text>
<text x="656" y="291" textLength="24" lengthAdjust="spacingAndGlyphs">86453</text>
<text x="697" y="260" textLength="24" lengthAdjust="spacingAndGlyphs">89125</text>
<text x="739" y="249" textLength="24" lengthAdjust="spacingAndGlyphs">90070</text>
<text x="780" y="236" textLength="24" lengthAdjust="spacingAndGlyphs">91150</text>
<text x="821" y="217" textLength="24" lengthAdjust="spacingAndGlyphs">92791</text>
<text x="862" y="217" textLength="24" lengthAdjust="spacingAndGlyphs">92791</text>
<text x="902" y="126" textLength="29" lengthAdjust="spacingAndGlyphs">100557</text>
<text x="943" y="91" textLength="29" lengthAdjust="spacingAndGlyphs">103553</text>
<text x="79" y="456" textLength="24" lengthAdjust="spacingAndGlyphs">72402</text>
<text x="120" y="456" textLength="24" lengthAdjust="spacingAndGlyphs">72402</text>
<text x="162" y="456" textLength="24" lengthAdjust="spacingAndGlyphs">72402</text>
<text x="203" y="456" textLength="24" lengthAdjust="spacingAndGlyphs">72402</text>
<text x="244" y="449" textLength="24" lengthAdjust="spacingAndGlyphs">72999</text>
<text x="285" y="405" textLength="24" lengthAdjust="spacingAndGlyphs">76735</text>
<text x="327" y="394" textLength="24" lengthAdjust="spacingAndGlyphs">77656</text>
<text x="368" y="374" textLength="24" lengthAdjust="spacingAndGlyphs">79341</text>
<text x="409" y="361" textLength="24" lengthAdjust="spacingAndGlyphs">80497</text>
<text x="450" y="361" textLength="24" lengthAdjust="spacingAndGlyphs">80497</text>
<text x="491" y="338" textLength="24" lengthAdjust="spacingAndGlyphs">82470</text>
<text x="533" y="311" textLength="24" lengthAdjust="spacingAndGlyphs">84738</text>
<text x="574" y="292" textLength="24" lengthAdjust="spacingAndGlyphs">86348</text>
<text x="615" y="252" textLength="24" lengthAdjust="spacingAndGlyphs">89748</text>
<text x="656" y="224" textLength="24" lengthAdjust="spacingAndGlyphs">92149</text>
<text x="697" y="190" textLength="24" lengthAdjust="spacingAndGlyphs">95097</text>
<text x="739" y="154" textLength="24" lengthAdjust="spacingAndGlyphs">98141</text>
<text x="780" y="138" textLength="24" lengthAdjust="spacingAndGlyphs">99514</text>
<text x="821" y="138" textLength="24" lengthAdjust="spacingAndGlyphs">99514</text>
<text x="860" y="128" textLength="29" lengthAdjust="spacingAndGlyphs">100395</text>
<text x="902" y="128" textLength="29" lengthAdjust="spacingAndGlyphs">100395</text>
<text x="943" y="31" textLength="29" lengthAdjust="spacingAndGlyphs">108616</text>
<text x="79" y="534" textLength="24" lengthAdjust="spacingAndGlyphs">65739</text>
<text x="120" y="534" textLength="24" lengthAdjust="spacingAndGlyphs">65739</text>
<text x="162" y="534" textLength="24" lengthAdjust="spacingAndGlyphs">65739</text>
<text x="203" y="511" textLength="24" lengthAdjust="spacingAndGlyphs">67711</text>
<text x="244" y="511" textLength="24" lengthAdjust="spacingAndGlyphs">67711</text>
<text x="285" y="481" textLength="24" lengthAdjust="spacingAndGlyphs">70249</text>
<text x="327" y="470" textLength="24" lengthAdjust="spacingAndGlyphs">71199</text>
<text x="368" y="431" textLength="24" lengthAdjust="spacingAndGlyphs">74557</text>
<text x="409" y="411" textLength="24" lengthAdjust="spacingAndGlyphs">76188</text>
<text x="450" y="374" textLength="24" lengthAdjust="spacingAndGlyphs">79378</text>
<text x="491" y="347" textLength="24" lengthAdjust="spacingAndGlyphs">81718</text>
<text x="533" y="326" textLength="24" lengthAdjust="spacingAndGlyphs">83433</text>
<text x="574" y="304" textLength="24" lengthAdjust="spacingAndGlyphs">85351</text>
<text x="615" y="284" textLength="24" lengthAdjust="spacingAndGlyphs">87057</text>
<text x="656" y="260" textLength="24" lengthAdjust="spacingAndGlyphs">89102</text>
<text x="697" y="227" textLength="24" lengthAdjust="spacingAndGlyphs">91951</text>
<text x="739" y="177" textLength="24" lengthAdjust="spacingAndGlyphs">96220</text>
<text x="780" y="161" textLength="24" lengthAdjust="spacingAndGlyphs">97566</text>
<text x="821" y="161" textLength="24" lengthAdjust="spacingAndGlyphs">97566</text>
<text x="860" y="118" textLength="29" lengthAdjust="spacingAndGlyphs">101195</text>
<text x="902" y="118" textLength="29" lengthAdjust="spacingAndGlyphs">101195</text>
<text x="943" y="18" textLength="29" lengthAdjust="spacingAndGlyphs">109734</text>
<text x="79" y="539" textLength="24" lengthAdjust="spacingAndGlyphs">65318</text>
<text x="120" y="539" textLength="24" lengthAdjust="spacingAndGlyphs">65318</text>
<text x="162" y="539" textLength="24" lengthAdjust="spacingAndGlyphs">65318</text>
<text x="203" y="539" textLength="24" lengthAdjust="spacingAndGlyphs">65318</text>
<text x="244" y="516" textLength="24" lengthAdjust="spacingAndGlyphs">67225</text>
<text x="285" y="493" textLength="24" lengthAdjust="spacingAndGlyphs">69422</text>
<text x="327" y="484" textLength="24" lengthAdjust="spacingAndGlyphs">70023</text>
<text x="368" y="471" textLength="24" lengthAdjust="spacingAndGlyphs">71124</text>
<text x="409" y="449" textLength="24" lengthAdjust="spacingAndGlyphs">72973</text>
<text x="491" y="375" textLength="24" lengthAdjust="spacingAndGlyphs">79286</text>
<text x="533" y="375" textLength="24" lengthAdjust="spacingAndGlyphs">79286</text>
<text x="574" y="366" textLength="24" lengthAdjust="spacingAndGlyphs">80079</text>
<text x="615" y="347" textLength="24" lengthAdjust="spacingAndGlyphs">81680</text>
<text x="656" y="326" textLength="24" lengthAdjust="spacingAndGlyphs">83477</text>
<text x="697" y="296" textLength="24" lengthAdjust="spacingAndGlyphs">86149</text>
<text x="739" y="262" textLength="24" lengthAdjust="spacingAndGlyphs">88906</text>
<text x="780" y="248" textLength="24" lengthAdjust="spacingAndGlyphs">90150</text>
<text x="821" y="225" textLength="24" lengthAdjust="spacingAndGlyphs">92100</text>
<text x="862" y="161" textLength="24" lengthAdjust="spacingAndGlyphs">97580</text>
<text x="902" y="126" textLength="29" lengthAdjust="spacingAndGlyphs">100598</text>
<text x="943" y="70" textLength="29" lengthAdjust="spacingAndGlyphs">105331</text>
<text x="244" y="513" textLength="24" lengthAdjust="spacingAndGlyphs">67556</text>
<text x="285" y="481" textLength="24" lengthAdjust="spacingAndGlyphs">70243</text>
<text x="327" y="471" textLength="24" lengthAdjust="spacingAndGlyphs">71107</text>
<text x="368" y="457" textLength="24" lengthAdjust="spacingAndGlyphs">72262</text>
<text x="409" y="441" textLength="24" lengthAdjust="spacingAndGlyphs">73665</text>
<text x="450" y="432" textLength="24" lengthAdjust="spacingAndGlyphs">74421</text>
<text x="491" y="423" textLength="24" lengthAdjust="spacingAndGlyphs">75165</text>
<text x="533" y="405" textLength="24" lengthAdjust="spacingAndGlyphs">76744</text>
<text x="574" y="384" textLength="24" lengthAdjust="spacingAndGlyphs">78509</text>
<text x="615" y="366" textLength="24" lengthAdjust="spacingAndGlyphs">80079</text>
<text x="656" y="344" textLength="24" lengthAdjust="spacingAndGlyphs">81961</text>
<text x="697" y="293" textLength="24" lengthAdjust="spacingAndGlyphs">86276</text>
<text x="739" y="240" textLength="24" lengthAdjust="spacingAndGlyphs">90818</text>
<text x="780" y="225" textLength="24" lengthAdjust="spacingAndGlyphs">92089</text>
<text x="821" y="225" textLength="24" lengthAdjust="spacingAndGlyphs">92089</text>
<text x="862" y="206" textLength="24" lengthAdjust="spacingAndGlyphs">93742</text>
<text x="904" y="206" textLength="24" lengthAdjust="spacingAndGlyphs">93742</text>
<text x="943" y="112" textLength="29" lengthAdjust="spacingAndGlyphs">101691</text>
</g>
<text x="525" y="13" font-size="14.5" fill="#000080" text-anchor="middle" textLength="480" lengthAdjust="spacingAndGlyphs">Besoldungsvergleich Baden-Württemberg R 2 gemitteltes Gehalt</text>
<text transform="translate(11.5 296) rotate(-90)" x="0" y="0" font-size="12.5" fill="#000080" stroke="#000080" stroke-width="0.1" text-anchor="middle" textLength="228" lengthAdjust="spacingAndGlyphs">Bruttojahresgehalt zum Stichtag 31.10.</text>
<rect x="231" y="594" width="13" height="2" fill="#ff0000"/>
<path d="M235 593h5v5h-5z M237 592h1v1h-1z M237 598h1v1h-1z M234 595h1v1h-1z M240 595h1v1h-1z" fill="#ff0000" shape-rendering="crispEdges"/>
<text x="247" y="598" font-size="9.5" font-weight="bold" fill="#000080" textLength="20" lengthAdjust="spacingAndGlyphs">Bund</text>
<rect x="340" y="594" width="13" height="2" fill="#00ff00"/>
<path d="M344 593h5v5h-5z M346 592h1v1h-1z M346 598h1v1h-1z M343 595h1v1h-1z M349 595h1v1h-1z" fill="#00ff00" shape-rendering="crispEdges"/>
<text x="356" y="598" font-size="9.5" font-weight="bold" fill="#000080" textLength="85" lengthAdjust="spacingAndGlyphs">Baden-Württemberg</text>
<rect x="449" y="594" width="13" height="2" fill="#0000ff"/>
<path d="M453 593h5v5h-5z M455 592h1v1h-1z M455 598h1v1h-1z M452 595h1v1h-1z M458 595h1v1h-1z" fill="#0000ff" shape-rendering="crispEdges"/>
<text x="465" y="598" font-size="9.5" font-weight="bold" fill="#000080" textLength="30" lengthAdjust="spacingAndGlyphs">Bayern</text>
<rect x="558" y="594" width="13" height="2" fill="#808000"/>
<path d="M562 593h5v5h-5z M564 592h1v1h-1z M564 598h1v1h-1z M561 595h1v1h-1z M567 595h1v1h-1z" fill="#808000" shape-rendering="crispEdges"/>
<text x="574" y="598" font-size="9.5" font-weight="bold" fill="#000080" textLength="30" lengthAdjust="spacingAndGlyphs">Hessen</text>
<rect x="667" y="594" width="13" height="2" fill="#ff00ff"/>
<path d="M671 593h5v5h-5z M673 592h1v1h-1z M673 598h1v1h-1z M670 595h1v1h-1z M676 595h1v1h-1z" fill="#ff00ff" shape-rendering="crispEdges"/>
<text x="683" y="598" font-size="9.5" font-weight="bold" fill="#000080" textLength="75" lengthAdjust="spacingAndGlyphs">Rheinland-Pfalz</text>
</svg></body></html>
